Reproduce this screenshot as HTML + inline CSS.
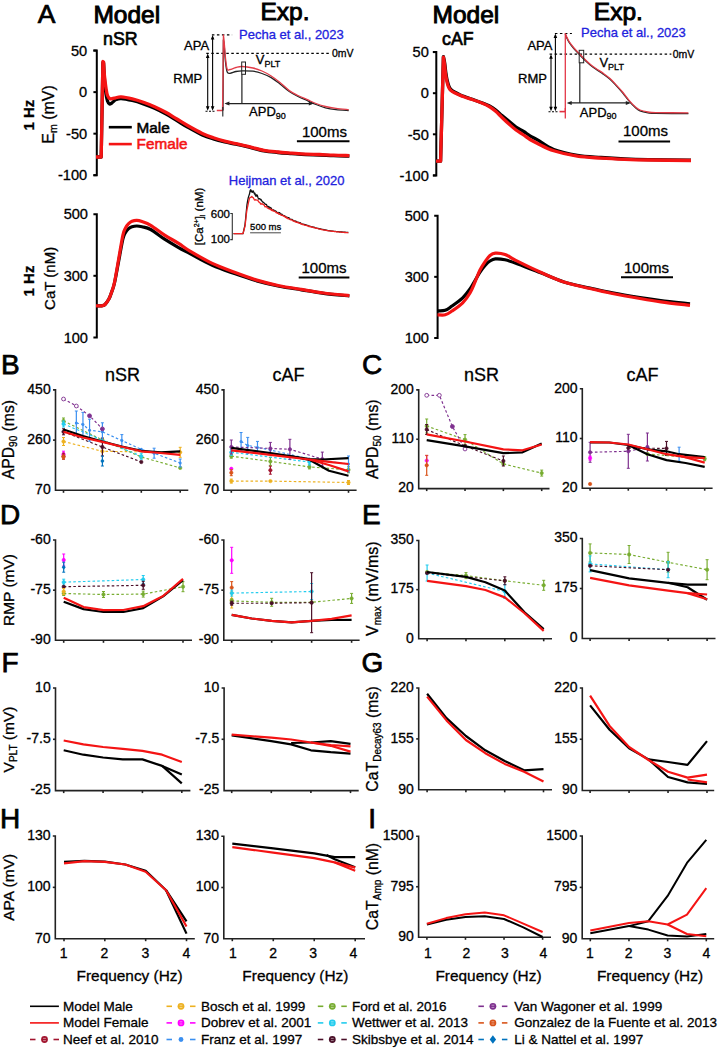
<!DOCTYPE html><html><head><meta charset="utf-8"><style>html,body{margin:0;padding:0;background:#fff;}svg{display:block;}</style></head><body>
<svg width="718" height="1049" viewBox="0 0 718 1049" font-family='"Liberation Sans", sans-serif'>
<rect width="718" height="1049" fill="#fff"/>
<text x="37.8" y="23.1" font-size="26.5" text-anchor="start" font-weight="normal" fill="#000" stroke="#000" stroke-width="0.7" >A</text>
<text x="93.4" y="23" font-size="24.5" text-anchor="start" font-weight="normal" fill="#000" stroke="#000" stroke-width="0.95" >Model</text>
<text x="260.5" y="20" font-size="24.5" text-anchor="start" font-weight="normal" fill="#000" stroke="#000" stroke-width="0.95" >Exp.</text>
<text x="432.5" y="22.6" font-size="24.5" text-anchor="start" font-weight="normal" fill="#000" stroke="#000" stroke-width="0.95" >Model</text>
<text x="593.8" y="19.6" font-size="24.5" text-anchor="start" font-weight="normal" fill="#000" stroke="#000" stroke-width="0.95" >Exp.</text>
<text x="103" y="45.2" font-size="17.8" text-anchor="start" font-weight="normal" fill="#000" stroke="#000" stroke-width="0.65" >nSR</text>
<text x="442" y="44.8" font-size="17.8" text-anchor="start" font-weight="normal" fill="#000" stroke="#000" stroke-width="0.65" >cAF</text>
<path d="M93.4,50.6 H96.8 V175.2 H93.4" fill="none" stroke="#000" stroke-width="2"/>
<line x1="93.4" y1="50.6" x2="96.8" y2="50.6" stroke="#000" stroke-width="2"/>
<text x="87.2" y="55.8" font-size="14.6" text-anchor="end" font-weight="normal" fill="#000" stroke="#000" stroke-width="0.3" >50</text>
<line x1="93.4" y1="92.13" x2="96.8" y2="92.13" stroke="#000" stroke-width="2"/>
<text x="87.2" y="97.33" font-size="14.6" text-anchor="end" font-weight="normal" fill="#000" stroke="#000" stroke-width="0.3" >0</text>
<line x1="93.4" y1="133.67" x2="96.8" y2="133.67" stroke="#000" stroke-width="2"/>
<text x="87.2" y="138.87" font-size="14.6" text-anchor="end" font-weight="normal" fill="#000" stroke="#000" stroke-width="0.3" >-50</text>
<line x1="93.4" y1="175.2" x2="96.8" y2="175.2" stroke="#000" stroke-width="2"/>
<text x="87.2" y="180.4" font-size="14.6" text-anchor="end" font-weight="normal" fill="#000" stroke="#000" stroke-width="0.3" >-100</text>
<path d="M432.9,52.1 H436.3 V175.4 H432.9" fill="none" stroke="#000" stroke-width="2"/>
<line x1="432.9" y1="52.1" x2="436.3" y2="52.1" stroke="#000" stroke-width="2"/>
<text x="428.8" y="57.3" font-size="14.6" text-anchor="end" font-weight="normal" fill="#000" stroke="#000" stroke-width="0.3" >50</text>
<line x1="432.9" y1="93.2" x2="436.3" y2="93.2" stroke="#000" stroke-width="2"/>
<text x="428.8" y="98.4" font-size="14.6" text-anchor="end" font-weight="normal" fill="#000" stroke="#000" stroke-width="0.3" >0</text>
<line x1="432.9" y1="134.3" x2="436.3" y2="134.3" stroke="#000" stroke-width="2"/>
<text x="428.8" y="139.5" font-size="14.6" text-anchor="end" font-weight="normal" fill="#000" stroke="#000" stroke-width="0.3" >-50</text>
<line x1="432.9" y1="175.4" x2="436.3" y2="175.4" stroke="#000" stroke-width="2"/>
<text x="428.8" y="180.6" font-size="14.6" text-anchor="end" font-weight="normal" fill="#000" stroke="#000" stroke-width="0.3" >-100</text>
<text transform="translate(34.3,115.2) rotate(-90)" font-size="15" text-anchor="middle" stroke="#000" stroke-width="0.3" font-weight="bold">1 Hz</text>
<text transform="translate(54,114.4) rotate(-90)" font-size="16" text-anchor="middle" stroke="#000" stroke-width="0.3" >E<tspan font-size="10.5" dy="3">m</tspan><tspan dy="-3"> (mV)</tspan></text>
<path d="M96,157 L101.2,157 L102.9,62.5 L103.6,63 C103.75,65.83 104.1,74.83 104.5,80 C104.9,85.17 105.5,90.5 106,94 C106.5,97.5 106.92,99.33 107.5,101 C108.08,102.67 108.75,103.7 109.5,104 C110.25,104.3 110.92,103.53 112,102.8 C113.08,102.07 114.48,100.32 116,99.6 C117.52,98.88 118.38,98.35 121.1,98.5 C123.82,98.65 128.58,99.6 132.3,100.5 C136.02,101.4 139.68,102.6 143.4,103.9 C147.12,105.2 150.88,106.63 154.6,108.3 C158.32,109.97 161.98,111.85 165.7,113.9 C169.42,115.95 173.18,118.37 176.9,120.6 C180.62,122.83 183.77,124.92 188,127.3 C192.23,129.68 198.07,132.97 202.3,134.9 C206.53,136.83 209.68,137.73 213.4,138.9 C217.12,140.07 220.88,141.02 224.6,141.9 C228.32,142.78 231.98,143.4 235.7,144.2 C239.42,145 242.2,145.6 246.9,146.7 C251.6,147.8 258.73,149.83 263.9,150.8 C269.07,151.77 273.25,152.03 277.9,152.5 C282.55,152.97 287.17,153.25 291.8,153.6 C296.43,153.95 301.07,154.37 305.7,154.6 C310.33,154.83 314.95,154.82 319.6,155 C324.25,155.18 328.63,155.52 333.6,155.7 C338.57,155.88 346.77,156.03 349.4,156.1" fill="none" stroke="#000" stroke-width="3.3" stroke-linejoin="round" />
<path d="M96,157 L101.2,157 L102.9,61.5 L103.6,62 C103.75,64.33 104.1,71.67 104.5,76 C104.9,80.33 105.5,84.75 106,88 C106.5,91.25 106.83,93.7 107.5,95.5 C108.17,97.3 109.08,98.32 110,98.8 C110.92,99.28 112.07,98.57 113,98.4 C113.93,98.23 114.25,98.05 115.6,97.8 C116.95,97.55 118.32,96.72 121.1,96.9 C123.88,97.08 128.58,98 132.3,98.9 C136.02,99.8 139.68,101 143.4,102.3 C147.12,103.6 150.88,105.03 154.6,106.7 C158.32,108.37 161.98,110.25 165.7,112.3 C169.42,114.35 173.18,116.77 176.9,119 C180.62,121.23 183.77,123.3 188,125.7 C192.23,128.1 198.07,131.38 202.3,133.4 C206.53,135.42 209.68,136.5 213.4,137.8 C217.12,139.1 220.88,140.22 224.6,141.2 C228.32,142.18 231.98,142.87 235.7,143.7 C239.42,144.53 242.2,145.1 246.9,146.2 C251.6,147.3 258.73,149.33 263.9,150.3 C269.07,151.27 273.25,151.53 277.9,152 C282.55,152.47 287.17,152.75 291.8,153.1 C296.43,153.45 301.07,153.87 305.7,154.1 C310.33,154.33 314.95,154.32 319.6,154.5 C324.25,154.68 328.63,155.02 333.6,155.2 C338.57,155.38 346.77,155.53 349.4,155.6" fill="none" stroke="#f41414" stroke-width="3.3" stroke-linejoin="round" />
<line x1="108.8" y1="127.2" x2="131.8" y2="127.2" stroke="#000" stroke-width="2.6"/>
<text x="136.6" y="132.6" font-size="15.3" text-anchor="start" font-weight="normal" fill="#000" stroke="#000" stroke-width="0.55" >Male</text>
<line x1="108.8" y1="144.1" x2="131.8" y2="144.1" stroke="#f41414" stroke-width="2.6"/>
<text x="136.6" y="149.4" font-size="15.3" text-anchor="start" font-weight="normal" fill="#f41414" stroke="#f41414" stroke-width="0.55" >Female</text>
<line x1="296.9" y1="141.3" x2="349.5" y2="141.3" stroke="#000" stroke-width="2"/>
<text x="301.9" y="136.6" font-size="15" text-anchor="start" font-weight="normal" fill="#000" stroke="#000" stroke-width="0.3" >100ms</text>
<line x1="211.9" y1="34.9" x2="232.1" y2="34.9" stroke="#000" stroke-width="1.2" stroke-dasharray="2.5,2.5"/>
<line x1="206.3" y1="53.4" x2="330" y2="53.4" stroke="#000" stroke-width="1.2" stroke-dasharray="2.5,2.5"/>
<text x="331.9" y="56.8" font-size="10.5" text-anchor="start" font-weight="normal" fill="#000" stroke="#000" stroke-width="0.3" >0mV</text>
<line x1="207.7" y1="55.4" x2="207.7" y2="108.8" stroke="#000" stroke-width="1.1"/>
<path d="M207.7,53.4 l-1.8,4.5 h3.6z M207.7,110.8 l-1.8,-4.5 h3.6z" fill="#000"/>
<line x1="212.6" y1="36.9" x2="212.6" y2="108.8" stroke="#000" stroke-width="1.1"/>
<path d="M212.6,34.9 l-1.8,4.5 h3.6z M212.6,110.8 l-1.8,-4.5 h3.6z" fill="#000"/>
<line x1="205.5" y1="111.2" x2="215" y2="111.2" stroke="#000" stroke-width="1.1" stroke-dasharray="2,1.5"/>
<text x="209.1" y="50" font-size="13" text-anchor="end" font-weight="normal" fill="#000" stroke="#000" stroke-width="0.3" >APA</text>
<text x="202.2" y="83.4" font-size="13" text-anchor="end" font-weight="normal" fill="#000" stroke="#000" stroke-width="0.3" >RMP</text>
<text x="239" y="38.6" font-size="13" text-anchor="start" font-weight="normal" fill="#2222dd" stroke="#2222dd" stroke-width="0.3" >Pecha et al., 2023</text>
<path d="M223,110.5 L223.4,40 C223.53,40.83 223.85,41.33 224.2,45 C224.55,48.67 225,57.5 225.5,62 C226,66.5 226.45,70.12 227.2,72 C227.95,73.88 228.53,73.38 230,73.3 C231.47,73.22 234,71.92 236,71.5 C238,71.08 239.17,70.85 242,70.8 C244.83,70.75 249.67,70.75 253,71.2 C256.33,71.65 258.97,72.43 262,73.5 C265.03,74.57 268.2,75.85 271.2,77.6 C274.2,79.35 276.98,81.68 280,84 C283.02,86.32 286.3,89.42 289.3,91.5 C292.3,93.58 294.98,94.98 298,96.5 C301.02,98.02 304.4,99.27 307.4,100.6 C310.4,101.93 312.98,103.3 316,104.5 C319.02,105.7 322.17,106.95 325.5,107.8 C328.83,108.65 332.13,109.15 336,109.6 C339.87,110.05 346.58,110.35 348.7,110.5" fill="none" stroke="#222" stroke-width="1.3" stroke-linejoin="round" />
<path d="M216.8,110.5 L222.5,110.5 L223,80 L223.4,35 C223.53,36.17 223.85,38.17 224.2,42 C224.55,45.83 225,53.5 225.5,58 C226,62.5 226.45,67.08 227.2,69 C227.95,70.92 228.53,69.75 230,69.5 C231.47,69.25 234,68 236,67.5 C238,67 239.17,66.42 242,66.5 C244.83,66.58 249.67,67.25 253,68 C256.33,68.75 258.97,69.67 262,71 C265.03,72.33 268.2,74.08 271.2,76 C274.2,77.92 276.98,80.07 280,82.5 C283.02,84.93 286.3,88.43 289.3,90.6 C292.3,92.77 294.98,93.98 298,95.5 C301.02,97.02 304.4,98.37 307.4,99.7 C310.4,101.03 312.98,102.37 316,103.5 C319.02,104.63 322.17,105.68 325.5,106.5 C328.83,107.32 332.13,107.88 336,108.4 C339.87,108.92 346.58,109.4 348.7,109.6" fill="none" stroke="#e23c48" stroke-width="1.3" stroke-linejoin="round" />
<line x1="222.8" y1="107" x2="222.8" y2="116.5" stroke="#222" stroke-width="1.1"/>
<rect x="241.7" y="62" width="3.8" height="12.3" fill="none" stroke="#222" stroke-width="1"/>
<line x1="241.9" y1="74.3" x2="241.9" y2="103.6" stroke="#222" stroke-width="1.2"/>
<line x1="226.5" y1="103.6" x2="311.5" y2="103.6" stroke="#222" stroke-width="1.2"/>
<path d="M224.4,103.6 l5,-2 v4z M313.8,103.6 l-5,-2 v4z" fill="#222"/>
<text x="255.8" y="64.4" font-size="13" text-anchor="start" font-weight="normal" fill="#000" stroke="#000" stroke-width="0.3" >V<tspan font-size="9" dy="3">PLT</tspan></text>
<text x="249.1" y="116.3" font-size="13" text-anchor="start" font-weight="normal" fill="#000" stroke="#000" stroke-width="0.3" >APD<tspan font-size="9" dy="2.4">90</tspan></text>
<path d="M436,161.2 L440.6,161.2 L443.4,56.6 C443.62,57.67 444.3,60.33 444.7,63 C445.1,65.67 445.37,69.6 445.8,72.6 C446.23,75.6 446.73,78.62 447.3,81 C447.87,83.38 448.53,85.43 449.2,86.9 C449.87,88.37 450.5,88.98 451.3,89.8 C452.1,90.62 452.5,90.95 454,91.8 C455.5,92.65 457.98,93.92 460.3,94.9 C462.62,95.88 464.32,96.38 467.9,97.7 C471.48,99.02 478.12,101.37 481.8,102.8 C485.48,104.23 487.68,105.1 490,106.3 C492.32,107.5 493.7,108.47 495.7,110 C497.7,111.53 499.68,113.53 502,115.5 C504.32,117.47 507.27,119.88 509.6,121.8 C511.93,123.72 513.67,125.38 516,127 C518.33,128.62 521.27,130.03 523.6,131.5 C525.93,132.97 527.68,134.4 530,135.8 C532.32,137.2 533.55,137.62 537.5,139.9 C541.45,142.18 547.07,146.92 553.7,149.5 C560.33,152.08 569.42,154.07 577.3,155.4 C585.18,156.73 593.1,156.92 601,157.5 C608.9,158.08 616.8,158.55 624.7,158.9 C632.6,159.25 637.35,159.4 648.4,159.6 C659.45,159.8 683.9,160.02 691,160.1" fill="none" stroke="#000" stroke-width="3.3" stroke-linejoin="round" />
<path d="M436,161.2 L440.6,161.2 L443.4,57.2 C443.58,58.33 444.15,61.27 444.5,64 C444.85,66.73 445.08,70.6 445.5,73.6 C445.92,76.6 446.43,79.62 447,82 C447.57,84.38 448.23,86.47 448.9,87.9 C449.57,89.33 450.15,89.83 451,90.6 C451.85,91.37 452.45,91.7 454,92.5 C455.55,93.3 457.98,94.47 460.3,95.4 C462.62,96.33 464.32,96.83 467.9,98.1 C471.48,99.37 478.12,101.52 481.8,103 C485.48,104.48 487.68,105.62 490,107 C492.32,108.38 493.7,109.55 495.7,111.3 C497.7,113.05 499.68,115.28 502,117.5 C504.32,119.72 507.27,122.52 509.6,124.6 C511.93,126.68 513.67,128.27 516,130 C518.33,131.73 521.27,133.42 523.6,135 C525.93,136.58 527.68,138.1 530,139.5 C532.32,140.9 533.55,141.52 537.5,143.4 C541.45,145.28 547.07,148.67 553.7,150.8 C560.33,152.93 569.42,154.98 577.3,156.2 C585.18,157.42 593.1,157.58 601,158.1 C608.9,158.62 616.8,158.98 624.7,159.3 C632.6,159.62 637.35,159.8 648.4,160 C659.45,160.2 683.9,160.42 691,160.5" fill="none" stroke="#f41414" stroke-width="3.3" stroke-linejoin="round" />
<line x1="618.5" y1="141.4" x2="670.1" y2="141.4" stroke="#000" stroke-width="2"/>
<text x="623" y="136.2" font-size="15" text-anchor="start" font-weight="normal" fill="#000" stroke="#000" stroke-width="0.3" >100ms</text>
<line x1="554.9" y1="33.5" x2="571.9" y2="33.5" stroke="#000" stroke-width="1.2" stroke-dasharray="2.5,2.5"/>
<line x1="549.6" y1="54.2" x2="671.4" y2="54.2" stroke="#000" stroke-width="1.2" stroke-dasharray="2.5,2.5"/>
<text x="672.7" y="57.5" font-size="10.5" text-anchor="start" font-weight="normal" fill="#000" stroke="#000" stroke-width="0.3" >0mV</text>
<line x1="551" y1="56.2" x2="551" y2="109.3" stroke="#000" stroke-width="1.1"/>
<path d="M551,54.2 l-1.8,4.5 h3.6z M551,111.3 l-1.8,-4.5 h3.6z" fill="#000"/>
<line x1="555.4" y1="35.5" x2="555.4" y2="109.3" stroke="#000" stroke-width="1.1"/>
<path d="M555.4,33.5 l-1.8,4.5 h3.6z M555.4,111.3 l-1.8,-4.5 h3.6z" fill="#000"/>
<line x1="548.5" y1="111.8" x2="558" y2="111.8" stroke="#000" stroke-width="1.1" stroke-dasharray="2,1.5"/>
<text x="552.5" y="49.5" font-size="13" text-anchor="end" font-weight="normal" fill="#000" stroke="#000" stroke-width="0.3" >APA</text>
<text x="547" y="82.5" font-size="13" text-anchor="end" font-weight="normal" fill="#000" stroke="#000" stroke-width="0.3" >RMP</text>
<text x="581" y="36.7" font-size="13" text-anchor="start" font-weight="normal" fill="#2222dd" stroke="#2222dd" stroke-width="0.3" >Pecha et al., 2023</text>
<path d="M565.3,34.3 C565.5,34.8 565.83,35.9 566.5,37.3 C567.17,38.7 568.05,40.78 569.3,42.7 C570.55,44.62 572.25,46.75 574,48.8 C575.75,50.85 577.97,53.08 579.8,55 C581.63,56.92 583.27,58.63 585,60.3 C586.73,61.97 588.37,63.5 590.2,65 C592.03,66.5 593.82,67.78 596,69.3 C598.18,70.82 600.97,72.43 603.3,74.1 C605.63,75.77 607.82,77.33 610,79.3 C612.18,81.27 614.23,83.57 616.4,85.9 C618.57,88.23 620.82,90.68 623,93.3 C625.18,95.92 627.5,99.27 629.5,101.6 C631.5,103.93 633.25,105.77 635,107.3 C636.75,108.83 637.83,109.88 640,110.8 C642.17,111.72 645.38,112.37 648,112.8 C650.62,113.23 648.97,113.27 655.7,113.4 C662.43,113.53 682.95,113.57 688.4,113.6" fill="none" stroke="#222" stroke-width="1.3" stroke-linejoin="round" />
<path d="M565.3,33.5 C565.5,34 565.83,35.1 566.5,36.5 C567.17,37.9 568.05,39.98 569.3,41.9 C570.55,43.82 572.25,45.95 574,48 C575.75,50.05 577.97,52.28 579.8,54.2 C581.63,56.12 583.27,57.83 585,59.5 C586.73,61.17 588.37,62.7 590.2,64.2 C592.03,65.7 593.82,66.98 596,68.5 C598.18,70.02 600.97,71.63 603.3,73.3 C605.63,74.97 607.82,76.53 610,78.5 C612.18,80.47 614.23,82.77 616.4,85.1 C618.57,87.43 620.82,89.88 623,92.5 C625.18,95.12 627.5,98.47 629.5,100.8 C631.5,103.13 633.25,104.97 635,106.5 C636.75,108.03 637.83,109.08 640,110 C642.17,110.92 645.38,111.57 648,112 C650.62,112.43 648.97,112.47 655.7,112.6 C662.43,112.73 682.95,112.77 688.4,112.8" fill="none" stroke="#e23c48" stroke-width="1.3" stroke-linejoin="round" />
<line x1="565.3" y1="33.5" x2="565.3" y2="111.3" stroke="#e23040" stroke-width="1.25"/>
<line x1="559.5" y1="111.6" x2="565" y2="111.6" stroke="#e23040" stroke-width="1.6"/>
<line x1="565.3" y1="108" x2="565.3" y2="118.4" stroke="#e23040" stroke-width="1.25"/>
<rect x="579.2" y="50.3" width="4.5" height="12.5" fill="none" stroke="#222" stroke-width="1"/>
<line x1="579.8" y1="62.8" x2="579.8" y2="102.9" stroke="#222" stroke-width="1.2"/>
<line x1="568.7" y1="102.9" x2="628.8" y2="102.9" stroke="#222" stroke-width="1.2"/>
<path d="M566.7,102.9 l5,-2 v4z M630.8,102.9 l-5,-2 v4z" fill="#222"/>
<text x="599.4" y="66.8" font-size="13" text-anchor="start" font-weight="normal" fill="#000" stroke="#000" stroke-width="0.3" >V<tspan font-size="9" dy="3">PLT</tspan></text>
<text x="579.8" y="116.5" font-size="13" text-anchor="start" font-weight="normal" fill="#000" stroke="#000" stroke-width="0.3" >APD<tspan font-size="9" dy="2.4">90</tspan></text>
<path d="M93.4,214.2 H96.8 V337.4 H93.4" fill="none" stroke="#000" stroke-width="2"/>
<line x1="93.4" y1="275.8" x2="96.8" y2="275.8" stroke="#000" stroke-width="2"/>
<text x="88" y="219.4" font-size="14.6" text-anchor="end" font-weight="normal" fill="#000" stroke="#000" stroke-width="0.3" >500</text>
<text x="88" y="281" font-size="14.6" text-anchor="end" font-weight="normal" fill="#000" stroke="#000" stroke-width="0.3" >300</text>
<text x="88" y="342.6" font-size="14.6" text-anchor="end" font-weight="normal" fill="#000" stroke="#000" stroke-width="0.3" >100</text>
<path d="M434.2,215.8 H437.6 V337.9 H434.2" fill="none" stroke="#000" stroke-width="2"/>
<line x1="434.2" y1="276.85" x2="437.6" y2="276.85" stroke="#000" stroke-width="2"/>
<text x="429" y="221" font-size="14.6" text-anchor="end" font-weight="normal" fill="#000" stroke="#000" stroke-width="0.3" >500</text>
<text x="429" y="282.05" font-size="14.6" text-anchor="end" font-weight="normal" fill="#000" stroke="#000" stroke-width="0.3" >300</text>
<text x="429" y="343.1" font-size="14.6" text-anchor="end" font-weight="normal" fill="#000" stroke="#000" stroke-width="0.3" >100</text>
<text transform="translate(33.8,281) rotate(-90)" font-size="15" text-anchor="middle" stroke="#000" stroke-width="0.3" font-weight="bold">1 Hz</text>
<text transform="translate(55,278.4) rotate(-90)" font-size="15" text-anchor="middle" stroke="#000" stroke-width="0.3" >CaT (nM)</text>
<path d="M96,305.8 L102,305.8 C102.5,305.58 103.85,305.62 105,304.5 C106.15,303.38 107.82,301.1 108.9,299.1 C109.98,297.1 110.57,295.18 111.5,292.5 C112.43,289.82 113.3,288.25 114.5,283 C115.7,277.75 117.3,268.33 118.7,261 C120.1,253.67 121.77,243.75 122.9,239 C124.03,234.25 124.58,234.2 125.5,232.5 C126.42,230.8 127.32,229.75 128.4,228.8 C129.48,227.85 130.6,227.27 132,226.8 C133.4,226.33 135.13,226 136.8,226 C138.47,226 139.68,226.22 142,226.8 C144.32,227.38 146.93,227.43 150.7,229.5 C154.47,231.57 159.95,236.18 164.6,239.2 C169.25,242.22 174.37,245.2 178.6,247.6 C182.83,250 184.38,250.65 190,253.6 C195.62,256.55 204.88,261.97 212.3,265.3 C219.72,268.63 227.08,271 234.5,273.6 C241.92,276.2 249.37,278.8 256.8,280.9 C264.23,283 271.67,284.72 279.1,286.2 C286.53,287.68 293.98,288.62 301.4,289.8 C308.82,290.98 315.6,292.27 323.6,293.3 C331.6,294.33 345.1,295.55 349.4,296" fill="none" stroke="#000" stroke-width="3.2" stroke-linejoin="round" />
<path d="M96,305.8 L102,305.8 C102.5,305.58 103.85,305.62 105,304.5 C106.15,303.38 107.82,301.1 108.9,299.1 C109.98,297.1 110.57,295.28 111.5,292.5 C112.43,289.72 113.3,288.03 114.5,282.4 C115.7,276.77 117.3,266.58 118.7,258.7 C120.1,250.82 121.77,240.22 122.9,235.1 C124.03,229.98 124.58,229.87 125.5,228 C126.42,226.13 127.32,225.02 128.4,223.9 C129.48,222.78 130.6,221.88 132,221.3 C133.4,220.72 135.13,220.35 136.8,220.4 C138.47,220.45 139.68,220.78 142,221.6 C144.32,222.42 146.93,223.05 150.7,225.3 C154.47,227.55 159.95,232.08 164.6,235.1 C169.25,238.12 174.37,240.73 178.6,243.4 C182.83,246.07 184.38,247.77 190,251.1 C195.62,254.43 204.88,259.87 212.3,263.4 C219.72,266.93 227.08,269.52 234.5,272.3 C241.92,275.08 249.37,277.87 256.8,280.1 C264.23,282.33 271.67,284.15 279.1,285.7 C286.53,287.25 293.98,288.18 301.4,289.4 C308.82,290.62 315.6,291.95 323.6,293 C331.6,294.05 345.1,295.25 349.4,295.7" fill="none" stroke="#f41414" stroke-width="3.2" stroke-linejoin="round" />
<line x1="298.7" y1="277.5" x2="349.4" y2="277.5" stroke="#000" stroke-width="2"/>
<text x="301.5" y="273.2" font-size="15" text-anchor="start" font-weight="normal" fill="#000" stroke="#000" stroke-width="0.3" >100ms</text>
<text x="228.8" y="185.1" font-size="13" text-anchor="start" font-weight="normal" fill="#2222dd" stroke="#2222dd" stroke-width="0.3" >Heijman et al., 2020</text>
<path d="M230.3,213.5 H232.3 V239.6 H230.3" fill="none" stroke="#333" stroke-width="1.1"/>
<text x="230" y="218.3" font-size="11.5" text-anchor="end" font-weight="normal" fill="#000" stroke="#000" stroke-width="0.3" >600</text>
<text x="230" y="243" font-size="11.5" text-anchor="end" font-weight="normal" fill="#000" stroke="#000" stroke-width="0.3" >100</text>
<text transform="translate(202.8,216.5) rotate(-90)" font-size="11.5" text-anchor="middle" stroke="#000" stroke-width="0.3" >[Ca<tspan font-size="7" dy="-4">2+</tspan><tspan dy="4">]</tspan><tspan font-size="7" dy="2">i</tspan><tspan dy="-2"> (nM)</tspan></text>
<polyline points="233.5,233.7 243,233.7 245,224.79 245.52,219.77 246.26,212.04 247,204.54 247.67,200.69 248.35,197.4 249,195.38 249.56,193.76 250.1,190.56 250.8,189.69 251.31,191.88 251.84,190.97 252.45,192.31 253.16,190.87 254,192.86 254.48,194.05 254.99,193.31 255.53,195.74 256.11,196.26 256.71,194.79 257.33,195.51 257.97,197.48 258.63,199.12 259.31,198.54 260,198.87 260.53,199.85 261.07,199.52 261.61,200.47 262.15,201.46 262.71,202.11 263.28,202.11 263.86,202.65 264.47,203.17 265.1,204.17 265.75,204.39 266.43,204.44 267.15,206.47 267.9,206.5 268.41,207 268.94,206.56 269.49,208.3 270.06,208.43 270.64,207.56 271.24,208.28 271.85,209.27 272.47,209.61 273.09,210.33 273.72,209.89 274.36,210.87 275,210.98 275.64,210.8 276.28,211.57 276.92,212.34 277.55,212.63 278.18,212.5 278.8,212.95 279.4,212.55 280,213.16 280.62,214.23 281.24,214.08 281.85,214.12 282.46,214.92 283.07,215.44 283.68,215.73 284.28,215.71 284.88,216.11 285.49,216.51 286.09,217.13 286.69,217.16 287.29,217.33 287.89,217.74 288.49,217.58 289.09,217.9 289.69,218.85 290.29,219.4 290.9,219.31 291.5,219.4 292.1,219.47 292.71,220.04 293.31,220.72 293.91,220.79 294.51,220.84 295.11,221.36 295.71,221.09 296.31,221.55 296.91,222.13 297.51,222.07 298.11,222.21 298.71,222.3 299.32,222.72 299.92,223.23 300.53,222.79 301.15,223.54 301.76,223.78 302.38,224.03 303,224.15 303.59,224.39 304.18,224.42 304.77,224.64 305.35,224.76 305.94,224.74 306.53,225.39 307.11,225.42 307.7,225.41 308.3,225.76 308.89,225.93 309.49,226.05 310.1,226.23 310.71,226.5 311.33,226.72 311.95,226.89 312.58,226.99 313.22,226.99 313.87,227.25 314.53,227.4 315.2,227.73 315.76,227.98 316.33,228.09 316.9,228.23 317.48,228.38 318.05,228.32 318.64,228.66 319.22,228.75 319.81,228.7 320.41,228.82 321.01,228.96 321.61,229.31 322.22,229.3 322.83,229.4 323.45,229.67 324.08,229.73 324.71,229.79 325.35,229.93 325.99,230.14 326.64,230.18 327.3,230.32 327.96,230.53 328.64,230.58 329.31,230.66 330,230.8 330.57,230.79 331.16,230.94 331.77,231.02 332.41,231.06 333.06,231.12 333.73,231.32 334.41,231.33 335.11,231.35 335.81,231.48 336.52,231.58 337.23,231.53 337.95,231.6 338.66,231.68 339.37,231.81 340.07,231.8 340.77,231.92 341.46,231.98 342.13,232.01 342.79,232.03 343.43,232.16 344.04,232.19 344.64,232.21 345.21,232.22 345.76,232.3 346.27,232.32 346.75,232.38 347.2,232.39 347.6,232.45 347.97,232.44 348.3,232.48" fill="none" stroke="#111" stroke-width="1.3" stroke-linejoin="round" stroke-linecap="butt" />
<polyline points="233.5,233.7 243,233.7 245,226.23 245.52,221.98 246.26,214.96 247,209.36 247.67,206.57 248.35,203.07 249,200.37 249.56,197.87 250.1,197.66 250.8,197.25 251.31,197.16 251.84,196.32 252.45,197.3 253.16,197.69 254,199.01 254.48,199.95 254.99,200.21 255.53,199.72 256.11,199.96 256.71,200.06 257.33,200.06 257.97,200.56 258.63,201.97 259.31,202.16 260,202.76 260.53,204.12 261.07,203.73 261.61,204.13 262.15,203.84 262.71,203.77 263.28,204.68 263.86,204.67 264.47,205.7 265.1,206.93 265.75,206.71 266.43,206.22 267.15,207.86 267.9,208.1 268.41,208.28 268.94,208.86 269.49,208.92 270.06,209.27 270.64,208.89 271.24,210.22 271.85,210.51 272.47,209.62 273.09,210.86 273.72,211.14 274.36,211.12 275,211.57 275.64,211.86 276.28,212.81 276.92,212.56 277.55,213.35 278.18,213.04 278.8,214.06 279.4,214.4 280,214.15 280.62,214.61 281.24,215.37 281.85,215.44 282.46,215.48 283.07,215.49 283.68,215.93 284.28,216.68 284.88,216.4 285.49,217.52 286.09,217.14 286.69,218.12 287.29,217.8 287.89,218.75 288.49,218.79 289.09,218.88 289.69,219.18 290.29,219.59 290.9,219.81 291.5,219.83 292.1,220.01 292.71,220.54 293.31,221.16 293.91,221.15 294.51,220.96 295.11,221.8 295.71,221.97 296.31,222.35 296.91,222.05 297.51,222.69 298.11,222.43 298.71,223.08 299.32,223.04 299.92,223.24 300.53,223.89 301.15,223.61 301.76,224.09 302.38,224.51 303,224.35 303.59,224.53 304.18,225.11 304.77,225.04 305.35,225.39 305.94,225.21 306.53,225.57 307.11,225.65 307.7,226.08 308.3,225.97 308.89,226.56 309.49,226.29 310.1,226.79 310.71,226.64 311.33,226.91 311.95,227.32 312.58,227.21 313.22,227.38 313.87,227.75 314.53,227.79 315.2,227.83 315.76,228.31 316.33,228.15 316.9,228.25 317.48,228.49 318.05,228.72 318.64,228.89 319.22,228.83 319.81,229.03 320.41,229.08 321.01,229.33 321.61,229.55 322.22,229.67 322.83,229.84 323.45,229.92 324.08,230.07 324.71,230.16 325.35,230.22 325.99,230.29 326.64,230.5 327.3,230.54 327.96,230.61 328.64,230.78 329.31,230.97 330,230.93 330.57,231.09 331.16,231.14 331.77,231.24 332.41,231.26 333.06,231.46 333.73,231.43 334.41,231.55 335.11,231.6 335.81,231.62 336.52,231.76 337.23,231.78 337.95,231.84 338.66,231.91 339.37,231.99 340.07,232.05 340.77,232.16 341.46,232.21 342.13,232.31 342.79,232.36 343.43,232.42 344.04,232.41 344.64,232.48 345.21,232.51 345.76,232.58 346.27,232.63 346.75,232.68 347.2,232.71 347.6,232.72 347.97,232.76 348.3,232.8" fill="none" stroke="#e22" stroke-width="1.3" stroke-linejoin="round" stroke-linecap="butt" />
<text x="250.1" y="230.1" font-size="9.5" text-anchor="start" font-weight="normal" fill="#000" stroke="#000" stroke-width="0.3" >500 ms</text>
<line x1="250.1" y1="232.8" x2="280.9" y2="232.8" stroke="#333" stroke-width="0.9"/>
<path d="M437.5,310.8 C438.78,310.72 442.78,311.1 445.2,310.3 C447.62,309.5 449.08,308.08 452,306 C454.92,303.92 459.7,300.63 462.7,297.8 C465.7,294.97 467.92,291.93 470,289 C472.08,286.07 473.53,283.03 475.2,280.2 C476.87,277.37 478.32,274.5 480,272 C481.68,269.5 483.63,267.03 485.3,265.2 C486.97,263.37 488.33,262.05 490,261 C491.67,259.95 492.8,259.1 495.3,258.9 C497.8,258.7 501.25,258.97 505,259.8 C508.75,260.63 511.97,261.78 517.8,263.9 C523.63,266.02 532.32,269.48 540,272.5 C547.68,275.52 555.57,279.42 563.9,282 C572.23,284.58 581.92,286.2 590,288 C598.08,289.8 604.07,291.22 612.4,292.8 C620.73,294.38 631.93,296.22 640,297.5 C648.07,298.78 652.47,299.43 660.8,300.5 C669.13,301.57 685.13,303.33 690,303.9" fill="none" stroke="#000" stroke-width="3.2" stroke-linejoin="round" />
<path d="M437.5,314.8 C438.78,314.8 442.78,315.43 445.2,314.8 C447.62,314.17 449.08,313 452,311 C454.92,309 459.7,305.8 462.7,302.8 C465.7,299.8 467.92,296.55 470,293 C472.08,289.45 473.53,285.33 475.2,281.5 C476.87,277.67 478.32,273.35 480,270 C481.68,266.65 483.63,263.82 485.3,261.4 C486.97,258.98 488.33,256.88 490,255.5 C491.67,254.12 492.8,253.27 495.3,253.1 C497.8,252.93 501.25,253.12 505,254.5 C508.75,255.88 511.97,258.48 517.8,261.4 C523.63,264.32 532.32,268.57 540,272 C547.68,275.43 555.57,279.25 563.9,282 C572.23,284.75 581.92,286.58 590,288.5 C598.08,290.42 604.07,291.83 612.4,293.5 C620.73,295.17 631.93,297.12 640,298.5 C648.07,299.88 652.47,300.65 660.8,301.8 C669.13,302.95 685.13,304.8 690,305.4" fill="none" stroke="#f41414" stroke-width="3.2" stroke-linejoin="round" />
<line x1="621" y1="277.3" x2="673" y2="277.3" stroke="#000" stroke-width="2"/>
<text x="624" y="273.2" font-size="15" text-anchor="start" font-weight="normal" fill="#000" stroke="#000" stroke-width="0.3" >100ms</text>
<text x="1" y="374.4" font-size="28" text-anchor="start" font-weight="normal" fill="#000" stroke="#000" stroke-width="0.75" >B</text>
<text x="361.9" y="374.2" font-size="28" text-anchor="start" font-weight="normal" fill="#000" stroke="#000" stroke-width="0.75" >C</text>
<text x="0.1" y="524.4" font-size="28" text-anchor="start" font-weight="normal" fill="#000" stroke="#000" stroke-width="0.75" >D</text>
<text x="362.1" y="524.4" font-size="28" text-anchor="start" font-weight="normal" fill="#000" stroke="#000" stroke-width="0.75" >E</text>
<text x="1.5" y="672.2" font-size="28" text-anchor="start" font-weight="normal" fill="#000" stroke="#000" stroke-width="0.75" >F</text>
<text x="361.6" y="671.6" font-size="28" text-anchor="start" font-weight="normal" fill="#000" stroke="#000" stroke-width="0.75" >G</text>
<text x="0.1" y="827.8" font-size="28" text-anchor="start" font-weight="normal" fill="#000" stroke="#000" stroke-width="0.75" >H</text>
<text x="368.2" y="827.8" font-size="28" text-anchor="start" font-weight="normal" fill="#000" stroke="#000" stroke-width="0.75" >I</text>
<text x="104.9" y="380.7" font-size="18" text-anchor="start" font-weight="normal" fill="#000" stroke="#000" stroke-width="0.3" >nSR</text>
<text x="272.5" y="380.7" font-size="18" text-anchor="start" font-weight="normal" fill="#000" stroke="#000" stroke-width="0.3" >cAF</text>
<text x="464" y="380.7" font-size="18" text-anchor="start" font-weight="normal" fill="#000" stroke="#000" stroke-width="0.3" >nSR</text>
<text x="626.5" y="380.7" font-size="18" text-anchor="start" font-weight="normal" fill="#000" stroke="#000" stroke-width="0.3" >cAF</text>
<path d="M53,389.9 H55.5 V490.3 H188.3" fill="none" stroke="#222" stroke-width="1.6"/>
<line x1="53" y1="440.1" x2="55.5" y2="440.1" stroke="#222" stroke-width="1.6"/>
<line x1="63.5" y1="490.3" x2="63.5" y2="492.8" stroke="#222" stroke-width="1.6"/>
<line x1="102.4" y1="490.3" x2="102.4" y2="492.8" stroke="#222" stroke-width="1.6"/>
<line x1="141.3" y1="490.3" x2="141.3" y2="492.8" stroke="#222" stroke-width="1.6"/>
<line x1="180.2" y1="490.3" x2="180.2" y2="492.8" stroke="#222" stroke-width="1.6"/>
<text x="50.7" y="393.7" font-size="14" text-anchor="end" font-weight="normal" fill="#000" stroke="#000" stroke-width="0.3" >450</text>
<text x="50.7" y="443.9" font-size="14" text-anchor="end" font-weight="normal" fill="#000" stroke="#000" stroke-width="0.3" >260</text>
<text x="50.7" y="494.1" font-size="14" text-anchor="end" font-weight="normal" fill="#000" stroke="#000" stroke-width="0.3" >70</text>
<text transform="translate(13.6,439.6) rotate(-90)" font-size="15.7" text-anchor="middle" stroke="#000" stroke-width="0.3" >APD<tspan font-size="10" dy="3">90</tspan><tspan dy="-3"> (ms)</tspan></text>
<polyline points="63.5,441.5 102.4,451.3 180.2,452.3" fill="none" stroke="#edb120" stroke-width="1.15" stroke-linejoin="round" stroke-linecap="butt" stroke-dasharray="2.6,2.2" />
<line x1="63.5" y1="437.5" x2="63.5" y2="445.5" stroke="#edb120" stroke-width="1.2"/>
<line x1="62" y1="437.5" x2="65" y2="437.5" stroke="#edb120" stroke-width="1"/>
<line x1="62" y1="445.5" x2="65" y2="445.5" stroke="#edb120" stroke-width="1"/>
<circle cx="63.5" cy="441.5" r="1.7" fill="#edb120" stroke="#edb120" stroke-width="0.6"/>
<circle cx="102.4" cy="451.3" r="1.7" fill="#edb120" stroke="#edb120" stroke-width="0.6"/>
<line x1="180.2" y1="447.3" x2="180.2" y2="457.3" stroke="#edb120" stroke-width="1.2"/>
<line x1="178.7" y1="447.3" x2="181.7" y2="447.3" stroke="#edb120" stroke-width="1"/>
<line x1="178.7" y1="457.3" x2="181.7" y2="457.3" stroke="#edb120" stroke-width="1"/>
<circle cx="180.2" cy="452.3" r="1.7" fill="#edb120" stroke="#edb120" stroke-width="0.6"/>
<polyline points="63.5,421 102.4,440 141.3,457 180.2,467.9" fill="none" stroke="#77ac30" stroke-width="1.15" stroke-linejoin="round" stroke-linecap="butt" stroke-dasharray="2.6,2.2" />
<line x1="63.5" y1="418" x2="63.5" y2="424" stroke="#77ac30" stroke-width="1.2"/>
<line x1="62" y1="418" x2="65" y2="418" stroke="#77ac30" stroke-width="1"/>
<line x1="62" y1="424" x2="65" y2="424" stroke="#77ac30" stroke-width="1"/>
<circle cx="63.5" cy="421" r="1.7" fill="#77ac30" stroke="#77ac30" stroke-width="0.6"/>
<circle cx="102.4" cy="440" r="1.7" fill="#77ac30" stroke="#77ac30" stroke-width="0.6"/>
<circle cx="141.3" cy="457" r="1.7" fill="#77ac30" stroke="#77ac30" stroke-width="0.6"/>
<circle cx="180.2" cy="467.9" r="1.7" fill="#77ac30" stroke="#77ac30" stroke-width="0.6"/>
<polyline points="63.5,431.8 102.4,447 141.3,462" fill="none" stroke="#4a0f28" stroke-width="1.15" stroke-linejoin="round" stroke-linecap="butt" stroke-dasharray="2.6,2.2" />
<line x1="63.5" y1="428.8" x2="63.5" y2="434.8" stroke="#4a0f28" stroke-width="1.2"/>
<line x1="62" y1="428.8" x2="65" y2="428.8" stroke="#4a0f28" stroke-width="1"/>
<line x1="62" y1="434.8" x2="65" y2="434.8" stroke="#4a0f28" stroke-width="1"/>
<circle cx="63.5" cy="431.8" r="1.7" fill="#4a0f28" stroke="#4a0f28" stroke-width="0.6"/>
<line x1="102.4" y1="438" x2="102.4" y2="456" stroke="#4a0f28" stroke-width="1.2"/>
<line x1="100.9" y1="438" x2="103.9" y2="438" stroke="#4a0f28" stroke-width="1"/>
<line x1="100.9" y1="456" x2="103.9" y2="456" stroke="#4a0f28" stroke-width="1"/>
<circle cx="102.4" cy="447" r="1.7" fill="#4a0f28" stroke="#4a0f28" stroke-width="0.6"/>
<circle cx="141.3" cy="462" r="1.7" fill="#4a0f28" stroke="#4a0f28" stroke-width="0.6"/>
<polyline points="63.5,424 141.3,456.2" fill="none" stroke="#22ccee" stroke-width="1.15" stroke-linejoin="round" stroke-linecap="butt" stroke-dasharray="2.6,2.2" />
<line x1="63.5" y1="421" x2="63.5" y2="427" stroke="#22ccee" stroke-width="1.2"/>
<line x1="62" y1="421" x2="65" y2="421" stroke="#22ccee" stroke-width="1"/>
<line x1="62" y1="427" x2="65" y2="427" stroke="#22ccee" stroke-width="1"/>
<circle cx="63.5" cy="424" r="1.7" fill="#22ccee" stroke="#22ccee" stroke-width="0.6"/>
<line x1="141.3" y1="453.2" x2="141.3" y2="459.2" stroke="#22ccee" stroke-width="1.2"/>
<line x1="139.8" y1="453.2" x2="142.8" y2="453.2" stroke="#22ccee" stroke-width="1"/>
<line x1="139.8" y1="459.2" x2="142.8" y2="459.2" stroke="#22ccee" stroke-width="1"/>
<circle cx="141.3" cy="456.2" r="1.7" fill="#22ccee" stroke="#22ccee" stroke-width="0.6"/>
<polyline points="76.34,423 82.95,424.4 89.56,430.2 102.4,431.8 121.85,440.6 141.3,449.3 154.14,453.2 180.2,463" fill="none" stroke="#3a8ff0" stroke-width="1.15" stroke-linejoin="round" stroke-linecap="butt" stroke-dasharray="2.6,2.2" />
<line x1="76.34" y1="411" x2="76.34" y2="435" stroke="#3a8ff0" stroke-width="1.2"/>
<line x1="74.84" y1="411" x2="77.84" y2="411" stroke="#3a8ff0" stroke-width="1"/>
<line x1="74.84" y1="435" x2="77.84" y2="435" stroke="#3a8ff0" stroke-width="1"/>
<circle cx="76.34" cy="423" r="1.5" fill="#3a8ff0"/>
<line x1="82.95" y1="412.4" x2="82.95" y2="436.4" stroke="#3a8ff0" stroke-width="1.2"/>
<line x1="81.45" y1="412.4" x2="84.45" y2="412.4" stroke="#3a8ff0" stroke-width="1"/>
<line x1="81.45" y1="436.4" x2="84.45" y2="436.4" stroke="#3a8ff0" stroke-width="1"/>
<circle cx="82.95" cy="424.4" r="1.5" fill="#3a8ff0"/>
<line x1="89.56" y1="419.2" x2="89.56" y2="441.2" stroke="#3a8ff0" stroke-width="1.2"/>
<line x1="88.06" y1="419.2" x2="91.06" y2="419.2" stroke="#3a8ff0" stroke-width="1"/>
<line x1="88.06" y1="441.2" x2="91.06" y2="441.2" stroke="#3a8ff0" stroke-width="1"/>
<circle cx="89.56" cy="430.2" r="1.5" fill="#3a8ff0"/>
<line x1="102.4" y1="422.8" x2="102.4" y2="440.8" stroke="#3a8ff0" stroke-width="1.2"/>
<line x1="100.9" y1="422.8" x2="103.9" y2="422.8" stroke="#3a8ff0" stroke-width="1"/>
<line x1="100.9" y1="440.8" x2="103.9" y2="440.8" stroke="#3a8ff0" stroke-width="1"/>
<circle cx="102.4" cy="431.8" r="1.5" fill="#3a8ff0"/>
<line x1="121.85" y1="434.6" x2="121.85" y2="446.6" stroke="#3a8ff0" stroke-width="1.2"/>
<line x1="120.35" y1="434.6" x2="123.35" y2="434.6" stroke="#3a8ff0" stroke-width="1"/>
<line x1="120.35" y1="446.6" x2="123.35" y2="446.6" stroke="#3a8ff0" stroke-width="1"/>
<circle cx="121.85" cy="440.6" r="1.5" fill="#3a8ff0"/>
<circle cx="141.3" cy="449.3" r="1.5" fill="#3a8ff0"/>
<line x1="154.14" y1="448.2" x2="154.14" y2="458.2" stroke="#3a8ff0" stroke-width="1.2"/>
<line x1="152.64" y1="448.2" x2="155.64" y2="448.2" stroke="#3a8ff0" stroke-width="1"/>
<line x1="152.64" y1="458.2" x2="155.64" y2="458.2" stroke="#3a8ff0" stroke-width="1"/>
<circle cx="154.14" cy="453.2" r="1.5" fill="#3a8ff0"/>
<line x1="180.2" y1="459" x2="180.2" y2="467" stroke="#3a8ff0" stroke-width="1.2"/>
<line x1="178.7" y1="459" x2="181.7" y2="459" stroke="#3a8ff0" stroke-width="1"/>
<line x1="178.7" y1="467" x2="181.7" y2="467" stroke="#3a8ff0" stroke-width="1"/>
<circle cx="180.2" cy="463" r="1.5" fill="#3a8ff0"/>
<line x1="102.4" y1="456" x2="102.4" y2="466" stroke="#0072bd" stroke-width="1.2"/>
<line x1="100.9" y1="456" x2="103.9" y2="456" stroke="#0072bd" stroke-width="1"/>
<line x1="100.9" y1="466" x2="103.9" y2="466" stroke="#0072bd" stroke-width="1"/>
<path d="M102.4,458.5 L104.4,461 L102.4,463.5 L100.4,461Z" fill="#0072bd"/>
<polyline points="63.5,399 76.34,406 89.56,415.8 102.4,428.9" fill="none" stroke="#7e2f8e" stroke-width="1.15" stroke-linejoin="round" stroke-linecap="butt" stroke-dasharray="2.6,2.2" />
<circle cx="63.5" cy="399" r="1.9" fill="#fff" stroke="#7e2f8e" stroke-width="0.9"/>
<circle cx="76.34" cy="406" r="1.9" fill="#fff" stroke="#7e2f8e" stroke-width="0.9"/>
<circle cx="89.56" cy="415.8" r="1.9" fill="#fff" stroke="#7e2f8e" stroke-width="0.9"/>
<circle cx="102.4" cy="428.9" r="1.9" fill="#fff" stroke="#7e2f8e" stroke-width="0.9"/>
<circle cx="89.56" cy="415.8" r="1.7" fill="#7e2f8e" stroke="#7e2f8e" stroke-width="0.6"/>
<circle cx="102.4" cy="428.9" r="1.7" fill="#7e2f8e" stroke="#7e2f8e" stroke-width="0.6"/>
<line x1="63.5" y1="451.2" x2="63.5" y2="457.2" stroke="#ff00ff" stroke-width="1.2"/>
<line x1="62" y1="451.2" x2="65" y2="451.2" stroke="#ff00ff" stroke-width="1"/>
<line x1="62" y1="457.2" x2="65" y2="457.2" stroke="#ff00ff" stroke-width="1"/>
<circle cx="63.5" cy="454.2" r="1.7" fill="#ff00ff" stroke="#ff00ff" stroke-width="0.6"/>
<line x1="63.5" y1="453.2" x2="63.5" y2="459.2" stroke="#a2142f" stroke-width="1.2"/>
<line x1="62" y1="453.2" x2="65" y2="453.2" stroke="#a2142f" stroke-width="1"/>
<line x1="62" y1="459.2" x2="65" y2="459.2" stroke="#a2142f" stroke-width="1"/>
<circle cx="63.5" cy="456.2" r="1.7" fill="#a2142f" stroke="#a2142f" stroke-width="0.6"/>
<line x1="63.5" y1="455" x2="63.5" y2="459" stroke="#d95319" stroke-width="1.2"/>
<line x1="62" y1="455" x2="65" y2="455" stroke="#d95319" stroke-width="1"/>
<line x1="62" y1="459" x2="65" y2="459" stroke="#d95319" stroke-width="1"/>
<circle cx="63.5" cy="457" r="1.7" fill="#d95319" stroke="#d95319" stroke-width="0.6"/>
<polyline points="63.5,429.5 82.95,436 102.4,441.5 121.85,446.5 141.3,450.9 160.75,452.3 180.2,451.3" fill="none" stroke="#000" stroke-width="2.2" stroke-linejoin="round" stroke-linecap="butt" />
<polyline points="63.5,431.8 82.95,437.5 102.4,441.9 121.85,446.8 141.3,451.3 160.75,453 180.2,454.8" fill="none" stroke="#f41414" stroke-width="2.2" stroke-linejoin="round" stroke-linecap="butt" />
<path d="M221.4,389.9 H223.9 V490.3 H356.6" fill="none" stroke="#222" stroke-width="1.6"/>
<line x1="221.4" y1="440.1" x2="223.9" y2="440.1" stroke="#222" stroke-width="1.6"/>
<line x1="231.3" y1="490.3" x2="231.3" y2="492.8" stroke="#222" stroke-width="1.6"/>
<line x1="270.37" y1="490.3" x2="270.37" y2="492.8" stroke="#222" stroke-width="1.6"/>
<line x1="309.43" y1="490.3" x2="309.43" y2="492.8" stroke="#222" stroke-width="1.6"/>
<line x1="348.5" y1="490.3" x2="348.5" y2="492.8" stroke="#222" stroke-width="1.6"/>
<text x="219.1" y="393.7" font-size="14" text-anchor="end" font-weight="normal" fill="#000" stroke="#000" stroke-width="0.3" >450</text>
<text x="219.1" y="443.9" font-size="14" text-anchor="end" font-weight="normal" fill="#000" stroke="#000" stroke-width="0.3" >260</text>
<text x="219.1" y="494.1" font-size="14" text-anchor="end" font-weight="normal" fill="#000" stroke="#000" stroke-width="0.3" >70</text>
<polyline points="231.3,481.1 270.37,481.1 348.5,482.5" fill="none" stroke="#edb120" stroke-width="1.15" stroke-linejoin="round" stroke-linecap="butt" stroke-dasharray="2.6,2.2" />
<line x1="231.3" y1="479.1" x2="231.3" y2="483.1" stroke="#edb120" stroke-width="1.2"/>
<line x1="229.8" y1="479.1" x2="232.8" y2="479.1" stroke="#edb120" stroke-width="1"/>
<line x1="229.8" y1="483.1" x2="232.8" y2="483.1" stroke="#edb120" stroke-width="1"/>
<circle cx="231.3" cy="481.1" r="1.7" fill="#edb120" stroke="#edb120" stroke-width="0.6"/>
<circle cx="270.37" cy="481.1" r="1.7" fill="#edb120" stroke="#edb120" stroke-width="0.6"/>
<line x1="348.5" y1="480.5" x2="348.5" y2="484.5" stroke="#edb120" stroke-width="1.2"/>
<line x1="347" y1="480.5" x2="350" y2="480.5" stroke="#edb120" stroke-width="1"/>
<line x1="347" y1="484.5" x2="350" y2="484.5" stroke="#edb120" stroke-width="1"/>
<circle cx="348.5" cy="482.5" r="1.7" fill="#edb120" stroke="#edb120" stroke-width="0.6"/>
<polyline points="231.3,456.2 270.37,461.4 309.43,466.9 348.5,469.8" fill="none" stroke="#77ac30" stroke-width="1.15" stroke-linejoin="round" stroke-linecap="butt" stroke-dasharray="2.6,2.2" />
<line x1="231.3" y1="454.2" x2="231.3" y2="458.2" stroke="#77ac30" stroke-width="1.2"/>
<line x1="229.8" y1="454.2" x2="232.8" y2="454.2" stroke="#77ac30" stroke-width="1"/>
<line x1="229.8" y1="458.2" x2="232.8" y2="458.2" stroke="#77ac30" stroke-width="1"/>
<circle cx="231.3" cy="456.2" r="1.7" fill="#77ac30" stroke="#77ac30" stroke-width="0.6"/>
<line x1="270.37" y1="457.4" x2="270.37" y2="465.4" stroke="#77ac30" stroke-width="1.2"/>
<line x1="268.87" y1="457.4" x2="271.87" y2="457.4" stroke="#77ac30" stroke-width="1"/>
<line x1="268.87" y1="465.4" x2="271.87" y2="465.4" stroke="#77ac30" stroke-width="1"/>
<circle cx="270.37" cy="461.4" r="1.7" fill="#77ac30" stroke="#77ac30" stroke-width="0.6"/>
<line x1="309.43" y1="464.9" x2="309.43" y2="468.9" stroke="#77ac30" stroke-width="1.2"/>
<line x1="307.93" y1="464.9" x2="310.93" y2="464.9" stroke="#77ac30" stroke-width="1"/>
<line x1="307.93" y1="468.9" x2="310.93" y2="468.9" stroke="#77ac30" stroke-width="1"/>
<circle cx="309.43" cy="466.9" r="1.7" fill="#77ac30" stroke="#77ac30" stroke-width="0.6"/>
<line x1="348.5" y1="466.8" x2="348.5" y2="472.8" stroke="#77ac30" stroke-width="1.2"/>
<line x1="347" y1="466.8" x2="350" y2="466.8" stroke="#77ac30" stroke-width="1"/>
<line x1="347" y1="472.8" x2="350" y2="472.8" stroke="#77ac30" stroke-width="1"/>
<circle cx="348.5" cy="469.8" r="1.7" fill="#77ac30" stroke="#77ac30" stroke-width="0.6"/>
<polyline points="231.3,452.3 309.43,462" fill="none" stroke="#22ccee" stroke-width="1.15" stroke-linejoin="round" stroke-linecap="butt" stroke-dasharray="2.6,2.2" />
<line x1="231.3" y1="449.3" x2="231.3" y2="455.3" stroke="#22ccee" stroke-width="1.2"/>
<line x1="229.8" y1="449.3" x2="232.8" y2="449.3" stroke="#22ccee" stroke-width="1"/>
<line x1="229.8" y1="455.3" x2="232.8" y2="455.3" stroke="#22ccee" stroke-width="1"/>
<circle cx="231.3" cy="452.3" r="1.7" fill="#22ccee" stroke="#22ccee" stroke-width="0.6"/>
<line x1="309.43" y1="459" x2="309.43" y2="465" stroke="#22ccee" stroke-width="1.2"/>
<line x1="307.93" y1="459" x2="310.93" y2="459" stroke="#22ccee" stroke-width="1"/>
<line x1="307.93" y1="465" x2="310.93" y2="465" stroke="#22ccee" stroke-width="1"/>
<circle cx="309.43" cy="462" r="1.7" fill="#22ccee" stroke="#22ccee" stroke-width="0.6"/>
<polyline points="241.07,441.5 247.71,445.4 257.47,447.4 270.37,450 309.43,459 348.5,464" fill="none" stroke="#3a8ff0" stroke-width="1.15" stroke-linejoin="round" stroke-linecap="butt" stroke-dasharray="2.6,2.2" />
<line x1="241.07" y1="432.5" x2="241.07" y2="450.5" stroke="#3a8ff0" stroke-width="1.2"/>
<line x1="239.57" y1="432.5" x2="242.57" y2="432.5" stroke="#3a8ff0" stroke-width="1"/>
<line x1="239.57" y1="450.5" x2="242.57" y2="450.5" stroke="#3a8ff0" stroke-width="1"/>
<circle cx="241.07" cy="441.5" r="1.5" fill="#3a8ff0"/>
<line x1="247.71" y1="437.4" x2="247.71" y2="453.4" stroke="#3a8ff0" stroke-width="1.2"/>
<line x1="246.21" y1="437.4" x2="249.21" y2="437.4" stroke="#3a8ff0" stroke-width="1"/>
<line x1="246.21" y1="453.4" x2="249.21" y2="453.4" stroke="#3a8ff0" stroke-width="1"/>
<circle cx="247.71" cy="445.4" r="1.5" fill="#3a8ff0"/>
<line x1="257.47" y1="441.4" x2="257.47" y2="453.4" stroke="#3a8ff0" stroke-width="1.2"/>
<line x1="255.97" y1="441.4" x2="258.97" y2="441.4" stroke="#3a8ff0" stroke-width="1"/>
<line x1="255.97" y1="453.4" x2="258.97" y2="453.4" stroke="#3a8ff0" stroke-width="1"/>
<circle cx="257.47" cy="447.4" r="1.5" fill="#3a8ff0"/>
<circle cx="270.37" cy="450" r="1.5" fill="#3a8ff0"/>
<circle cx="309.43" cy="459" r="1.5" fill="#3a8ff0"/>
<line x1="348.5" y1="456" x2="348.5" y2="472" stroke="#3a8ff0" stroke-width="1.2"/>
<line x1="347" y1="456" x2="350" y2="456" stroke="#3a8ff0" stroke-width="1"/>
<line x1="347" y1="472" x2="350" y2="472" stroke="#3a8ff0" stroke-width="1"/>
<circle cx="348.5" cy="464" r="1.5" fill="#3a8ff0"/>
<polyline points="231.3,447 270.37,448.4 289.9,449.3 322.33,459.1" fill="none" stroke="#7e2f8e" stroke-width="1.15" stroke-linejoin="round" stroke-linecap="butt" stroke-dasharray="2.6,2.2" />
<line x1="231.3" y1="440" x2="231.3" y2="454" stroke="#7e2f8e" stroke-width="1.2"/>
<line x1="229.8" y1="440" x2="232.8" y2="440" stroke="#7e2f8e" stroke-width="1"/>
<line x1="229.8" y1="454" x2="232.8" y2="454" stroke="#7e2f8e" stroke-width="1"/>
<circle cx="231.3" cy="447" r="1.7" fill="#7e2f8e" stroke="#7e2f8e" stroke-width="0.6"/>
<line x1="270.37" y1="442.4" x2="270.37" y2="454.4" stroke="#7e2f8e" stroke-width="1.2"/>
<line x1="268.87" y1="442.4" x2="271.87" y2="442.4" stroke="#7e2f8e" stroke-width="1"/>
<line x1="268.87" y1="454.4" x2="271.87" y2="454.4" stroke="#7e2f8e" stroke-width="1"/>
<circle cx="270.37" cy="448.4" r="1.7" fill="#7e2f8e" stroke="#7e2f8e" stroke-width="0.6"/>
<line x1="289.9" y1="439.3" x2="289.9" y2="459.3" stroke="#7e2f8e" stroke-width="1.2"/>
<line x1="288.4" y1="439.3" x2="291.4" y2="439.3" stroke="#7e2f8e" stroke-width="1"/>
<line x1="288.4" y1="459.3" x2="291.4" y2="459.3" stroke="#7e2f8e" stroke-width="1"/>
<circle cx="289.9" cy="449.3" r="1.7" fill="#7e2f8e" stroke="#7e2f8e" stroke-width="0.6"/>
<line x1="322.33" y1="452.1" x2="322.33" y2="466.1" stroke="#7e2f8e" stroke-width="1.2"/>
<line x1="320.83" y1="452.1" x2="323.83" y2="452.1" stroke="#7e2f8e" stroke-width="1"/>
<line x1="320.83" y1="466.1" x2="323.83" y2="466.1" stroke="#7e2f8e" stroke-width="1"/>
<circle cx="322.33" cy="459.1" r="1.7" fill="#7e2f8e" stroke="#7e2f8e" stroke-width="0.6"/>
<circle cx="231.3" cy="468.8" r="1.7" fill="#ff00ff" stroke="#ff00ff" stroke-width="0.6"/>
<line x1="231.3" y1="469.7" x2="231.3" y2="475.7" stroke="#d95319" stroke-width="1.2"/>
<line x1="229.8" y1="469.7" x2="232.8" y2="469.7" stroke="#d95319" stroke-width="1"/>
<line x1="229.8" y1="475.7" x2="232.8" y2="475.7" stroke="#d95319" stroke-width="1"/>
<circle cx="231.3" cy="472.7" r="1.7" fill="#d95319" stroke="#d95319" stroke-width="0.6"/>
<line x1="270.37" y1="466.2" x2="270.37" y2="474.2" stroke="#a2142f" stroke-width="1.2"/>
<line x1="268.87" y1="466.2" x2="271.87" y2="466.2" stroke="#a2142f" stroke-width="1"/>
<line x1="268.87" y1="474.2" x2="271.87" y2="474.2" stroke="#a2142f" stroke-width="1"/>
<circle cx="270.37" cy="470.2" r="1.7" fill="#a2142f" stroke="#a2142f" stroke-width="0.6"/>
<polyline points="231.3,447.8 270.37,453.2 309.43,459.1 322.33,459.5 348.5,458.1" fill="none" stroke="#000" stroke-width="2.2" stroke-linejoin="round" stroke-linecap="butt" />
<polyline points="289.9,456 309.43,459.8 328.97,470.8 348.5,475.7" fill="none" stroke="#000" stroke-width="2.2" stroke-linejoin="round" stroke-linecap="butt" />
<polyline points="231.3,450.3 270.37,454.8 309.43,459.5 328.97,461.8 348.5,464" fill="none" stroke="#f41414" stroke-width="2.2" stroke-linejoin="round" stroke-linecap="butt" />
<polyline points="309.43,459.5 328.97,465 348.5,471.4" fill="none" stroke="#f41414" stroke-width="2.2" stroke-linejoin="round" stroke-linecap="butt" />
<path d="M416.2,389.9 H418.7 V488.6 H549.5" fill="none" stroke="#222" stroke-width="1.6"/>
<line x1="416.2" y1="439.25" x2="418.7" y2="439.25" stroke="#222" stroke-width="1.6"/>
<line x1="426.7" y1="488.6" x2="426.7" y2="491.1" stroke="#222" stroke-width="1.6"/>
<line x1="465.03" y1="488.6" x2="465.03" y2="491.1" stroke="#222" stroke-width="1.6"/>
<line x1="503.37" y1="488.6" x2="503.37" y2="491.1" stroke="#222" stroke-width="1.6"/>
<line x1="541.7" y1="488.6" x2="541.7" y2="491.1" stroke="#222" stroke-width="1.6"/>
<text x="413.9" y="393.7" font-size="14" text-anchor="end" font-weight="normal" fill="#000" stroke="#000" stroke-width="0.3" >200</text>
<text x="413.9" y="443.05" font-size="14" text-anchor="end" font-weight="normal" fill="#000" stroke="#000" stroke-width="0.3" >110</text>
<text x="413.9" y="492.4" font-size="14" text-anchor="end" font-weight="normal" fill="#000" stroke="#000" stroke-width="0.3" >20</text>
<text transform="translate(378.2,439.2) rotate(-90)" font-size="15.8" text-anchor="middle" stroke="#000" stroke-width="0.3" >APD<tspan font-size="10" dy="3">50</tspan><tspan dy="-3"> (ms)</tspan></text>
<polyline points="426.7,426 465.03,439.6 503.37,464 541.7,473.1" fill="none" stroke="#77ac30" stroke-width="1.15" stroke-linejoin="round" stroke-linecap="butt" stroke-dasharray="2.6,2.2" />
<line x1="426.7" y1="419" x2="426.7" y2="433" stroke="#77ac30" stroke-width="1.2"/>
<line x1="425.2" y1="419" x2="428.2" y2="419" stroke="#77ac30" stroke-width="1"/>
<line x1="425.2" y1="433" x2="428.2" y2="433" stroke="#77ac30" stroke-width="1"/>
<circle cx="426.7" cy="426" r="1.7" fill="#77ac30" stroke="#77ac30" stroke-width="0.6"/>
<line x1="465.03" y1="434.6" x2="465.03" y2="444.6" stroke="#77ac30" stroke-width="1.2"/>
<line x1="463.53" y1="434.6" x2="466.53" y2="434.6" stroke="#77ac30" stroke-width="1"/>
<line x1="463.53" y1="444.6" x2="466.53" y2="444.6" stroke="#77ac30" stroke-width="1"/>
<circle cx="465.03" cy="439.6" r="1.7" fill="#77ac30" stroke="#77ac30" stroke-width="0.6"/>
<circle cx="503.37" cy="464" r="1.7" fill="#77ac30" stroke="#77ac30" stroke-width="0.6"/>
<line x1="541.7" y1="470.1" x2="541.7" y2="476.1" stroke="#77ac30" stroke-width="1.2"/>
<line x1="540.2" y1="470.1" x2="543.2" y2="470.1" stroke="#77ac30" stroke-width="1"/>
<line x1="540.2" y1="476.1" x2="543.2" y2="476.1" stroke="#77ac30" stroke-width="1"/>
<circle cx="541.7" cy="473.1" r="1.7" fill="#77ac30" stroke="#77ac30" stroke-width="0.6"/>
<polyline points="426.7,429.5 465.03,446 503.37,461" fill="none" stroke="#4a0f28" stroke-width="1.15" stroke-linejoin="round" stroke-linecap="butt" stroke-dasharray="2.6,2.2" />
<line x1="426.7" y1="424.5" x2="426.7" y2="434.5" stroke="#4a0f28" stroke-width="1.2"/>
<line x1="425.2" y1="424.5" x2="428.2" y2="424.5" stroke="#4a0f28" stroke-width="1"/>
<line x1="425.2" y1="434.5" x2="428.2" y2="434.5" stroke="#4a0f28" stroke-width="1"/>
<circle cx="426.7" cy="429.5" r="1.7" fill="#4a0f28" stroke="#4a0f28" stroke-width="0.6"/>
<circle cx="465.03" cy="446" r="1.7" fill="#4a0f28" stroke="#4a0f28" stroke-width="0.6"/>
<line x1="503.37" y1="456" x2="503.37" y2="466" stroke="#4a0f28" stroke-width="1.2"/>
<line x1="501.87" y1="456" x2="504.87" y2="456" stroke="#4a0f28" stroke-width="1"/>
<line x1="501.87" y1="466" x2="504.87" y2="466" stroke="#4a0f28" stroke-width="1"/>
<circle cx="503.37" cy="461" r="1.7" fill="#4a0f28" stroke="#4a0f28" stroke-width="0.6"/>
<polyline points="426.7,395.3 439.35,395.3 452.38,426.5 465.03,449" fill="none" stroke="#7e2f8e" stroke-width="1.15" stroke-linejoin="round" stroke-linecap="butt" stroke-dasharray="2.6,2.2" />
<circle cx="426.7" cy="395.3" r="1.9" fill="#fff" stroke="#7e2f8e" stroke-width="0.9"/>
<circle cx="439.35" cy="395.3" r="1.9" fill="#fff" stroke="#7e2f8e" stroke-width="0.9"/>
<circle cx="452.38" cy="426.5" r="1.9" fill="#fff" stroke="#7e2f8e" stroke-width="0.9"/>
<circle cx="465.03" cy="449" r="1.9" fill="#fff" stroke="#7e2f8e" stroke-width="0.9"/>
<circle cx="452.38" cy="426.5" r="1.7" fill="#7e2f8e" stroke="#7e2f8e" stroke-width="0.6"/>
<line x1="426.7" y1="455.6" x2="426.7" y2="465.6" stroke="#ff00ff" stroke-width="1.2"/>
<line x1="425.2" y1="455.6" x2="428.2" y2="455.6" stroke="#ff00ff" stroke-width="1"/>
<line x1="425.2" y1="465.6" x2="428.2" y2="465.6" stroke="#ff00ff" stroke-width="1"/>
<circle cx="426.7" cy="460.6" r="1.7" fill="#ff00ff" stroke="#ff00ff" stroke-width="0.6"/>
<line x1="426.7" y1="455.3" x2="426.7" y2="475.3" stroke="#d95319" stroke-width="1.2"/>
<line x1="425.2" y1="455.3" x2="428.2" y2="455.3" stroke="#d95319" stroke-width="1"/>
<line x1="425.2" y1="475.3" x2="428.2" y2="475.3" stroke="#d95319" stroke-width="1"/>
<circle cx="426.7" cy="465.3" r="1.7" fill="#d95319" stroke="#d95319" stroke-width="0.6"/>
<polyline points="426.7,440.2 465.03,446.4 503.37,453.2 522.53,452.3 541.7,443.5" fill="none" stroke="#000" stroke-width="2.2" stroke-linejoin="round" stroke-linecap="butt" />
<polyline points="426.7,434.3 465.03,441.5 503.37,449.3 522.53,450.3 541.7,444.5" fill="none" stroke="#f41414" stroke-width="2.2" stroke-linejoin="round" stroke-linecap="butt" />
<path d="M579.8,388.8 H582.3 V488.2 H712.6" fill="none" stroke="#222" stroke-width="1.6"/>
<line x1="579.8" y1="438.5" x2="582.3" y2="438.5" stroke="#222" stroke-width="1.6"/>
<line x1="590.1" y1="488.2" x2="590.1" y2="490.7" stroke="#222" stroke-width="1.6"/>
<line x1="628.3" y1="488.2" x2="628.3" y2="490.7" stroke="#222" stroke-width="1.6"/>
<line x1="666.5" y1="488.2" x2="666.5" y2="490.7" stroke="#222" stroke-width="1.6"/>
<line x1="704.7" y1="488.2" x2="704.7" y2="490.7" stroke="#222" stroke-width="1.6"/>
<text x="577.5" y="392.6" font-size="14" text-anchor="end" font-weight="normal" fill="#000" stroke="#000" stroke-width="0.3" >200</text>
<text x="577.5" y="442.3" font-size="14" text-anchor="end" font-weight="normal" fill="#000" stroke="#000" stroke-width="0.3" >110</text>
<text x="577.5" y="492" font-size="14" text-anchor="end" font-weight="normal" fill="#000" stroke="#000" stroke-width="0.3" >20</text>
<polyline points="590.1,452.3 628.3,451.3 647.4,447" fill="none" stroke="#7e2f8e" stroke-width="1.15" stroke-linejoin="round" stroke-linecap="butt" stroke-dasharray="2.6,2.2" />
<line x1="590.1" y1="442.3" x2="590.1" y2="462.3" stroke="#7e2f8e" stroke-width="1.2"/>
<line x1="588.6" y1="442.3" x2="591.6" y2="442.3" stroke="#7e2f8e" stroke-width="1"/>
<line x1="588.6" y1="462.3" x2="591.6" y2="462.3" stroke="#7e2f8e" stroke-width="1"/>
<circle cx="590.1" cy="452.3" r="1.7" fill="#7e2f8e" stroke="#7e2f8e" stroke-width="0.6"/>
<line x1="628.3" y1="434.3" x2="628.3" y2="468.3" stroke="#7e2f8e" stroke-width="1.2"/>
<line x1="626.8" y1="434.3" x2="629.8" y2="434.3" stroke="#7e2f8e" stroke-width="1"/>
<line x1="626.8" y1="468.3" x2="629.8" y2="468.3" stroke="#7e2f8e" stroke-width="1"/>
<circle cx="628.3" cy="451.3" r="1.7" fill="#7e2f8e" stroke="#7e2f8e" stroke-width="0.6"/>
<line x1="647.4" y1="433" x2="647.4" y2="461" stroke="#7e2f8e" stroke-width="1.2"/>
<line x1="645.9" y1="433" x2="648.9" y2="433" stroke="#7e2f8e" stroke-width="1"/>
<line x1="645.9" y1="461" x2="648.9" y2="461" stroke="#7e2f8e" stroke-width="1"/>
<circle cx="647.4" cy="447" r="1.7" fill="#7e2f8e" stroke="#7e2f8e" stroke-width="0.6"/>
<polyline points="628.3,448 666.5,448.4" fill="none" stroke="#4a0f28" stroke-width="1.15" stroke-linejoin="round" stroke-linecap="butt" stroke-dasharray="2.6,2.2" />
<circle cx="628.3" cy="448" r="1.7" fill="#4a0f28" stroke="#4a0f28" stroke-width="0.6"/>
<line x1="666.5" y1="441.4" x2="666.5" y2="455.4" stroke="#4a0f28" stroke-width="1.2"/>
<line x1="665" y1="441.4" x2="668" y2="441.4" stroke="#4a0f28" stroke-width="1"/>
<line x1="665" y1="455.4" x2="668" y2="455.4" stroke="#4a0f28" stroke-width="1"/>
<circle cx="666.5" cy="448.4" r="1.7" fill="#4a0f28" stroke="#4a0f28" stroke-width="0.6"/>
<line x1="679.11" y1="447.2" x2="679.11" y2="461.2" stroke="#3a8ff0" stroke-width="1.2"/>
<line x1="677.61" y1="447.2" x2="680.61" y2="447.2" stroke="#3a8ff0" stroke-width="1"/>
<line x1="677.61" y1="461.2" x2="680.61" y2="461.2" stroke="#3a8ff0" stroke-width="1"/>
<circle cx="679.11" cy="454.2" r="1.5" fill="#3a8ff0"/>
<polyline points="647.4,454 704.7,458.7" fill="none" stroke="#77ac30" stroke-width="1.15" stroke-linejoin="round" stroke-linecap="butt" stroke-dasharray="2.6,2.2" />
<circle cx="647.4" cy="454" r="1.7" fill="#77ac30" stroke="#77ac30" stroke-width="0.6"/>
<line x1="704.7" y1="456.7" x2="704.7" y2="460.7" stroke="#77ac30" stroke-width="1.2"/>
<line x1="703.2" y1="456.7" x2="706.2" y2="456.7" stroke="#77ac30" stroke-width="1"/>
<line x1="703.2" y1="460.7" x2="706.2" y2="460.7" stroke="#77ac30" stroke-width="1"/>
<circle cx="704.7" cy="458.7" r="1.7" fill="#77ac30" stroke="#77ac30" stroke-width="0.6"/>
<line x1="590.1" y1="456.1" x2="590.1" y2="460.1" stroke="#ff00ff" stroke-width="1.2"/>
<line x1="588.6" y1="456.1" x2="591.6" y2="456.1" stroke="#ff00ff" stroke-width="1"/>
<line x1="588.6" y1="460.1" x2="591.6" y2="460.1" stroke="#ff00ff" stroke-width="1"/>
<circle cx="590.1" cy="458.1" r="1.7" fill="#ff00ff" stroke="#ff00ff" stroke-width="0.6"/>
<circle cx="590.1" cy="484" r="1.7" fill="#d95319" stroke="#d95319" stroke-width="0.6"/>
<polyline points="590.1,442.5 609.2,442.5 628.3,445 647.4,449.3 666.5,451.3 679.11,454.2 704.7,457.1" fill="none" stroke="#000" stroke-width="2.2" stroke-linejoin="round" stroke-linecap="butt" />
<polyline points="628.3,445 647.4,454.2 666.5,460.1 685.6,463 704.7,466.9" fill="none" stroke="#000" stroke-width="2.2" stroke-linejoin="round" stroke-linecap="butt" />
<polyline points="590.1,442.1 609.2,442.5 628.3,444.5 647.4,449.3 666.5,454.2 685.6,457.1 704.7,458.1" fill="none" stroke="#f41414" stroke-width="2.2" stroke-linejoin="round" stroke-linecap="butt" />
<polyline points="679.11,455.5 704.7,462.6" fill="none" stroke="#f41414" stroke-width="2.2" stroke-linejoin="round" stroke-linecap="butt" />
<path d="M53,540 H55.5 V640.3 H192" fill="none" stroke="#222" stroke-width="1.6"/>
<line x1="53" y1="590.15" x2="55.5" y2="590.15" stroke="#222" stroke-width="1.6"/>
<line x1="63.7" y1="640.3" x2="63.7" y2="642.8" stroke="#222" stroke-width="1.6"/>
<line x1="103.47" y1="640.3" x2="103.47" y2="642.8" stroke="#222" stroke-width="1.6"/>
<line x1="143.23" y1="640.3" x2="143.23" y2="642.8" stroke="#222" stroke-width="1.6"/>
<line x1="183" y1="640.3" x2="183" y2="642.8" stroke="#222" stroke-width="1.6"/>
<text x="50.7" y="543.8" font-size="14" text-anchor="end" font-weight="normal" fill="#000" stroke="#000" stroke-width="0.3" >-60</text>
<text x="50.7" y="593.95" font-size="14" text-anchor="end" font-weight="normal" fill="#000" stroke="#000" stroke-width="0.3" >-75</text>
<text x="50.7" y="644.1" font-size="14" text-anchor="end" font-weight="normal" fill="#000" stroke="#000" stroke-width="0.3" >-90</text>
<text transform="translate(14,590) rotate(-90)" font-size="15.5" text-anchor="middle" stroke="#000" stroke-width="0.3" >RMP (mV)</text>
<line x1="63.7" y1="554" x2="63.7" y2="566" stroke="#ff00ff" stroke-width="1.2"/>
<line x1="62.2" y1="554" x2="65.2" y2="554" stroke="#ff00ff" stroke-width="1"/>
<line x1="62.2" y1="566" x2="65.2" y2="566" stroke="#ff00ff" stroke-width="1"/>
<circle cx="63.7" cy="560" r="1.7" fill="#ff00ff" stroke="#ff00ff" stroke-width="0.6"/>
<line x1="63.7" y1="562.2" x2="63.7" y2="572.2" stroke="#0072bd" stroke-width="1.2"/>
<line x1="62.2" y1="562.2" x2="65.2" y2="562.2" stroke="#0072bd" stroke-width="1"/>
<line x1="62.2" y1="572.2" x2="65.2" y2="572.2" stroke="#0072bd" stroke-width="1"/>
<path d="M63.7,564.7 L65.7,567.2 L63.7,569.7 L61.7,567.2Z" fill="#0072bd"/>
<polyline points="63.7,582.2 143.23,579.5" fill="none" stroke="#22ccee" stroke-width="1.15" stroke-linejoin="round" stroke-linecap="butt" stroke-dasharray="2.6,2.2" />
<line x1="63.7" y1="579.2" x2="63.7" y2="585.2" stroke="#22ccee" stroke-width="1.2"/>
<line x1="62.2" y1="579.2" x2="65.2" y2="579.2" stroke="#22ccee" stroke-width="1"/>
<line x1="62.2" y1="585.2" x2="65.2" y2="585.2" stroke="#22ccee" stroke-width="1"/>
<circle cx="63.7" cy="582.2" r="1.7" fill="#22ccee" stroke="#22ccee" stroke-width="0.6"/>
<line x1="143.23" y1="575.5" x2="143.23" y2="583.5" stroke="#22ccee" stroke-width="1.2"/>
<line x1="141.73" y1="575.5" x2="144.73" y2="575.5" stroke="#22ccee" stroke-width="1"/>
<line x1="141.73" y1="583.5" x2="144.73" y2="583.5" stroke="#22ccee" stroke-width="1"/>
<circle cx="143.23" cy="579.5" r="1.7" fill="#22ccee" stroke="#22ccee" stroke-width="0.6"/>
<polyline points="63.7,586.7 143.23,585.3" fill="none" stroke="#4a0f28" stroke-width="1.15" stroke-linejoin="round" stroke-linecap="butt" stroke-dasharray="2.6,2.2" />
<circle cx="63.7" cy="586.7" r="1.7" fill="#4a0f28" stroke="#4a0f28" stroke-width="0.6"/>
<line x1="143.23" y1="581.3" x2="143.23" y2="589.3" stroke="#4a0f28" stroke-width="1.2"/>
<line x1="141.73" y1="581.3" x2="144.73" y2="581.3" stroke="#4a0f28" stroke-width="1"/>
<line x1="141.73" y1="589.3" x2="144.73" y2="589.3" stroke="#4a0f28" stroke-width="1"/>
<circle cx="143.23" cy="585.3" r="1.7" fill="#4a0f28" stroke="#4a0f28" stroke-width="0.6"/>
<polyline points="63.7,593.5 103.47,594.5 143.23,594.1 183,586.7" fill="none" stroke="#77ac30" stroke-width="1.15" stroke-linejoin="round" stroke-linecap="butt" stroke-dasharray="2.6,2.2" />
<line x1="63.7" y1="591.5" x2="63.7" y2="595.5" stroke="#77ac30" stroke-width="1.2"/>
<line x1="62.2" y1="591.5" x2="65.2" y2="591.5" stroke="#77ac30" stroke-width="1"/>
<line x1="62.2" y1="595.5" x2="65.2" y2="595.5" stroke="#77ac30" stroke-width="1"/>
<circle cx="63.7" cy="593.5" r="1.7" fill="#77ac30" stroke="#77ac30" stroke-width="0.6"/>
<line x1="103.47" y1="591.5" x2="103.47" y2="597.5" stroke="#77ac30" stroke-width="1.2"/>
<line x1="101.97" y1="591.5" x2="104.97" y2="591.5" stroke="#77ac30" stroke-width="1"/>
<line x1="101.97" y1="597.5" x2="104.97" y2="597.5" stroke="#77ac30" stroke-width="1"/>
<circle cx="103.47" cy="594.5" r="1.7" fill="#77ac30" stroke="#77ac30" stroke-width="0.6"/>
<line x1="143.23" y1="591.1" x2="143.23" y2="597.1" stroke="#77ac30" stroke-width="1.2"/>
<line x1="141.73" y1="591.1" x2="144.73" y2="591.1" stroke="#77ac30" stroke-width="1"/>
<line x1="141.73" y1="597.1" x2="144.73" y2="597.1" stroke="#77ac30" stroke-width="1"/>
<circle cx="143.23" cy="594.1" r="1.7" fill="#77ac30" stroke="#77ac30" stroke-width="0.6"/>
<line x1="183" y1="581.7" x2="183" y2="591.7" stroke="#77ac30" stroke-width="1.2"/>
<line x1="181.5" y1="581.7" x2="184.5" y2="581.7" stroke="#77ac30" stroke-width="1"/>
<line x1="181.5" y1="591.7" x2="184.5" y2="591.7" stroke="#77ac30" stroke-width="1"/>
<circle cx="183" cy="586.7" r="1.7" fill="#77ac30" stroke="#77ac30" stroke-width="0.6"/>
<line x1="63.7" y1="588.5" x2="63.7" y2="594.5" stroke="#edb120" stroke-width="1.2"/>
<line x1="62.2" y1="588.5" x2="65.2" y2="588.5" stroke="#edb120" stroke-width="1"/>
<line x1="62.2" y1="594.5" x2="65.2" y2="594.5" stroke="#edb120" stroke-width="1"/>
<circle cx="63.7" cy="591.5" r="1.7" fill="#edb120" stroke="#edb120" stroke-width="0.6"/>
<polyline points="63.7,601.7 83.58,609.1 103.47,612 123.35,612 143.23,608.1 163.12,596.4 183,580.2" fill="none" stroke="#000" stroke-width="2.2" stroke-linejoin="round" stroke-linecap="butt" />
<polyline points="63.7,597.8 83.58,607.1 103.47,610.1 123.35,610 143.23,606.2 163.12,596 183,578.9" fill="none" stroke="#f41414" stroke-width="2.2" stroke-linejoin="round" stroke-linecap="butt" />
<path d="M221.3,540 H223.8 V640.3 H359.6" fill="none" stroke="#222" stroke-width="1.6"/>
<line x1="221.3" y1="590.15" x2="223.8" y2="590.15" stroke="#222" stroke-width="1.6"/>
<line x1="231.7" y1="640.3" x2="231.7" y2="642.8" stroke="#222" stroke-width="1.6"/>
<line x1="271.67" y1="640.3" x2="271.67" y2="642.8" stroke="#222" stroke-width="1.6"/>
<line x1="311.63" y1="640.3" x2="311.63" y2="642.8" stroke="#222" stroke-width="1.6"/>
<line x1="351.6" y1="640.3" x2="351.6" y2="642.8" stroke="#222" stroke-width="1.6"/>
<text x="219" y="543.8" font-size="14" text-anchor="end" font-weight="normal" fill="#000" stroke="#000" stroke-width="0.3" >-60</text>
<text x="219" y="593.95" font-size="14" text-anchor="end" font-weight="normal" fill="#000" stroke="#000" stroke-width="0.3" >-75</text>
<text x="219" y="644.1" font-size="14" text-anchor="end" font-weight="normal" fill="#000" stroke="#000" stroke-width="0.3" >-90</text>
<line x1="231.7" y1="547.3" x2="231.7" y2="573.3" stroke="#ff00ff" stroke-width="1.2"/>
<line x1="230.2" y1="547.3" x2="233.2" y2="547.3" stroke="#ff00ff" stroke-width="1"/>
<line x1="230.2" y1="573.3" x2="233.2" y2="573.3" stroke="#ff00ff" stroke-width="1"/>
<circle cx="231.7" cy="560.3" r="1.7" fill="#ff00ff" stroke="#ff00ff" stroke-width="0.6"/>
<line x1="231.7" y1="581.6" x2="231.7" y2="593.6" stroke="#d95319" stroke-width="1.2"/>
<line x1="230.2" y1="581.6" x2="233.2" y2="581.6" stroke="#d95319" stroke-width="1"/>
<line x1="230.2" y1="593.6" x2="233.2" y2="593.6" stroke="#d95319" stroke-width="1"/>
<circle cx="231.7" cy="587.6" r="1.7" fill="#d95319" stroke="#d95319" stroke-width="0.6"/>
<line x1="231.7" y1="592" x2="231.7" y2="608" stroke="#edb120" stroke-width="1.2"/>
<line x1="230.2" y1="592" x2="233.2" y2="592" stroke="#edb120" stroke-width="1"/>
<line x1="230.2" y1="608" x2="233.2" y2="608" stroke="#edb120" stroke-width="1"/>
<circle cx="231.7" cy="600" r="1.7" fill="#edb120" stroke="#edb120" stroke-width="0.6"/>
<polyline points="231.7,593.1 311.63,591.5" fill="none" stroke="#22ccee" stroke-width="1.15" stroke-linejoin="round" stroke-linecap="butt" stroke-dasharray="2.6,2.2" />
<line x1="231.7" y1="590.1" x2="231.7" y2="596.1" stroke="#22ccee" stroke-width="1.2"/>
<line x1="230.2" y1="590.1" x2="233.2" y2="590.1" stroke="#22ccee" stroke-width="1"/>
<line x1="230.2" y1="596.1" x2="233.2" y2="596.1" stroke="#22ccee" stroke-width="1"/>
<circle cx="231.7" cy="593.1" r="1.7" fill="#22ccee" stroke="#22ccee" stroke-width="0.6"/>
<line x1="311.63" y1="583.5" x2="311.63" y2="599.5" stroke="#22ccee" stroke-width="1.2"/>
<line x1="310.13" y1="583.5" x2="313.13" y2="583.5" stroke="#22ccee" stroke-width="1"/>
<line x1="310.13" y1="599.5" x2="313.13" y2="599.5" stroke="#22ccee" stroke-width="1"/>
<circle cx="311.63" cy="591.5" r="1.7" fill="#22ccee" stroke="#22ccee" stroke-width="0.6"/>
<polyline points="231.7,600.9 271.67,602.3 311.63,602.3 351.6,598.4" fill="none" stroke="#77ac30" stroke-width="1.15" stroke-linejoin="round" stroke-linecap="butt" stroke-dasharray="2.6,2.2" />
<line x1="231.7" y1="598.9" x2="231.7" y2="602.9" stroke="#77ac30" stroke-width="1.2"/>
<line x1="230.2" y1="598.9" x2="233.2" y2="598.9" stroke="#77ac30" stroke-width="1"/>
<line x1="230.2" y1="602.9" x2="233.2" y2="602.9" stroke="#77ac30" stroke-width="1"/>
<circle cx="231.7" cy="600.9" r="1.7" fill="#77ac30" stroke="#77ac30" stroke-width="0.6"/>
<line x1="271.67" y1="598.3" x2="271.67" y2="606.3" stroke="#77ac30" stroke-width="1.2"/>
<line x1="270.17" y1="598.3" x2="273.17" y2="598.3" stroke="#77ac30" stroke-width="1"/>
<line x1="270.17" y1="606.3" x2="273.17" y2="606.3" stroke="#77ac30" stroke-width="1"/>
<circle cx="271.67" cy="602.3" r="1.7" fill="#77ac30" stroke="#77ac30" stroke-width="0.6"/>
<circle cx="311.63" cy="602.3" r="1.7" fill="#77ac30" stroke="#77ac30" stroke-width="0.6"/>
<line x1="351.6" y1="593.4" x2="351.6" y2="603.4" stroke="#77ac30" stroke-width="1.2"/>
<line x1="350.1" y1="593.4" x2="353.1" y2="593.4" stroke="#77ac30" stroke-width="1"/>
<line x1="350.1" y1="603.4" x2="353.1" y2="603.4" stroke="#77ac30" stroke-width="1"/>
<circle cx="351.6" cy="598.4" r="1.7" fill="#77ac30" stroke="#77ac30" stroke-width="0.6"/>
<polyline points="231.7,603.2 271.67,603.2 311.63,602.7" fill="none" stroke="#4a0f28" stroke-width="1.15" stroke-linejoin="round" stroke-linecap="butt" stroke-dasharray="2.6,2.2" />
<line x1="231.7" y1="601.2" x2="231.7" y2="605.2" stroke="#4a0f28" stroke-width="1.2"/>
<line x1="230.2" y1="601.2" x2="233.2" y2="601.2" stroke="#4a0f28" stroke-width="1"/>
<line x1="230.2" y1="605.2" x2="233.2" y2="605.2" stroke="#4a0f28" stroke-width="1"/>
<circle cx="231.7" cy="603.2" r="1.7" fill="#4a0f28" stroke="#4a0f28" stroke-width="0.6"/>
<circle cx="271.67" cy="603.2" r="1.7" fill="#4a0f28" stroke="#4a0f28" stroke-width="0.6"/>
<line x1="311.63" y1="572.7" x2="311.63" y2="632.7" stroke="#4a0f28" stroke-width="1.2"/>
<line x1="310.13" y1="572.7" x2="313.13" y2="572.7" stroke="#4a0f28" stroke-width="1"/>
<line x1="310.13" y1="632.7" x2="313.13" y2="632.7" stroke="#4a0f28" stroke-width="1"/>
<circle cx="311.63" cy="602.7" r="1.7" fill="#4a0f28" stroke="#4a0f28" stroke-width="0.6"/>
<polyline points="231.7,614.9 251.68,618.5 271.67,620.8 291.65,622.3 311.63,620.8 331.62,620 351.6,619.8" fill="none" stroke="#000" stroke-width="2.2" stroke-linejoin="round" stroke-linecap="butt" />
<polyline points="231.7,614.9 251.68,618.5 271.67,620.8 291.65,622.3 311.63,620.8 331.62,618.8 351.6,615.3" fill="none" stroke="#f41414" stroke-width="2.2" stroke-linejoin="round" stroke-linecap="butt" />
<path d="M416.2,540.5 H418.7 V638.8 H552" fill="none" stroke="#222" stroke-width="1.6"/>
<line x1="416.2" y1="589.65" x2="418.7" y2="589.65" stroke="#222" stroke-width="1.6"/>
<line x1="427.1" y1="638.8" x2="427.1" y2="641.3" stroke="#222" stroke-width="1.6"/>
<line x1="465.97" y1="638.8" x2="465.97" y2="641.3" stroke="#222" stroke-width="1.6"/>
<line x1="504.83" y1="638.8" x2="504.83" y2="641.3" stroke="#222" stroke-width="1.6"/>
<line x1="543.7" y1="638.8" x2="543.7" y2="641.3" stroke="#222" stroke-width="1.6"/>
<text x="413.9" y="544.3" font-size="14" text-anchor="end" font-weight="normal" fill="#000" stroke="#000" stroke-width="0.3" >350</text>
<text x="413.9" y="593.45" font-size="14" text-anchor="end" font-weight="normal" fill="#000" stroke="#000" stroke-width="0.3" >175</text>
<text x="413.9" y="642.6" font-size="14" text-anchor="end" font-weight="normal" fill="#000" stroke="#000" stroke-width="0.3" >0</text>
<text transform="translate(377.8,588.7) rotate(-90)" font-size="16" text-anchor="middle" stroke="#000" stroke-width="0.3" >V<tspan font-size="10" dy="3">max</tspan><tspan dy="-3"> (mV/ms)</tspan></text>
<polyline points="427.1,573 504.83,591.5" fill="none" stroke="#22ccee" stroke-width="1.15" stroke-linejoin="round" stroke-linecap="butt" stroke-dasharray="2.6,2.2" />
<line x1="427.1" y1="565" x2="427.1" y2="581" stroke="#22ccee" stroke-width="1.2"/>
<line x1="425.6" y1="565" x2="428.6" y2="565" stroke="#22ccee" stroke-width="1"/>
<line x1="425.6" y1="581" x2="428.6" y2="581" stroke="#22ccee" stroke-width="1"/>
<circle cx="427.1" cy="573" r="1.7" fill="#22ccee" stroke="#22ccee" stroke-width="0.6"/>
<line x1="504.83" y1="584.5" x2="504.83" y2="598.5" stroke="#22ccee" stroke-width="1.2"/>
<line x1="503.33" y1="584.5" x2="506.33" y2="584.5" stroke="#22ccee" stroke-width="1"/>
<line x1="503.33" y1="598.5" x2="506.33" y2="598.5" stroke="#22ccee" stroke-width="1"/>
<circle cx="504.83" cy="591.5" r="1.7" fill="#22ccee" stroke="#22ccee" stroke-width="0.6"/>
<polyline points="427.1,572 465.97,575.6 504.83,580.8 543.7,585.3" fill="none" stroke="#77ac30" stroke-width="1.15" stroke-linejoin="round" stroke-linecap="butt" stroke-dasharray="2.6,2.2" />
<circle cx="427.1" cy="572" r="1.7" fill="#77ac30" stroke="#77ac30" stroke-width="0.6"/>
<line x1="465.97" y1="572.6" x2="465.97" y2="578.6" stroke="#77ac30" stroke-width="1.2"/>
<line x1="464.47" y1="572.6" x2="467.47" y2="572.6" stroke="#77ac30" stroke-width="1"/>
<line x1="464.47" y1="578.6" x2="467.47" y2="578.6" stroke="#77ac30" stroke-width="1"/>
<circle cx="465.97" cy="575.6" r="1.7" fill="#77ac30" stroke="#77ac30" stroke-width="0.6"/>
<circle cx="504.83" cy="580.8" r="1.7" fill="#77ac30" stroke="#77ac30" stroke-width="0.6"/>
<line x1="543.7" y1="580.3" x2="543.7" y2="590.3" stroke="#77ac30" stroke-width="1.2"/>
<line x1="542.2" y1="580.3" x2="545.2" y2="580.3" stroke="#77ac30" stroke-width="1"/>
<line x1="542.2" y1="590.3" x2="545.2" y2="590.3" stroke="#77ac30" stroke-width="1"/>
<circle cx="543.7" cy="585.3" r="1.7" fill="#77ac30" stroke="#77ac30" stroke-width="0.6"/>
<polyline points="427.1,573 504.83,580.8" fill="none" stroke="#4a0f28" stroke-width="1.15" stroke-linejoin="round" stroke-linecap="butt" stroke-dasharray="2.6,2.2" />
<circle cx="427.1" cy="573" r="1.7" fill="#4a0f28" stroke="#4a0f28" stroke-width="0.6"/>
<line x1="504.83" y1="576.8" x2="504.83" y2="584.8" stroke="#4a0f28" stroke-width="1.2"/>
<line x1="503.33" y1="576.8" x2="506.33" y2="576.8" stroke="#4a0f28" stroke-width="1"/>
<line x1="503.33" y1="584.8" x2="506.33" y2="584.8" stroke="#4a0f28" stroke-width="1"/>
<circle cx="504.83" cy="580.8" r="1.7" fill="#4a0f28" stroke="#4a0f28" stroke-width="0.6"/>
<polyline points="427.1,572 465.97,576.9 485.4,582.2 504.83,590.6 524.27,612 543.7,629" fill="none" stroke="#000" stroke-width="2.2" stroke-linejoin="round" stroke-linecap="butt" />
<polyline points="427.1,580.8 465.97,586.1 485.4,590 504.83,597.4 524.27,613 543.7,630.9" fill="none" stroke="#f41414" stroke-width="2.2" stroke-linejoin="round" stroke-linecap="butt" />
<path d="M579.8,538.5 H582.3 V638.5 H715.5" fill="none" stroke="#222" stroke-width="1.6"/>
<line x1="579.8" y1="588.5" x2="582.3" y2="588.5" stroke="#222" stroke-width="1.6"/>
<line x1="590.1" y1="638.5" x2="590.1" y2="641" stroke="#222" stroke-width="1.6"/>
<line x1="629.1" y1="638.5" x2="629.1" y2="641" stroke="#222" stroke-width="1.6"/>
<line x1="668.1" y1="638.5" x2="668.1" y2="641" stroke="#222" stroke-width="1.6"/>
<line x1="707.1" y1="638.5" x2="707.1" y2="641" stroke="#222" stroke-width="1.6"/>
<text x="577.5" y="542.3" font-size="14" text-anchor="end" font-weight="normal" fill="#000" stroke="#000" stroke-width="0.3" >350</text>
<text x="577.5" y="592.3" font-size="14" text-anchor="end" font-weight="normal" fill="#000" stroke="#000" stroke-width="0.3" >175</text>
<text x="577.5" y="642.3" font-size="14" text-anchor="end" font-weight="normal" fill="#000" stroke="#000" stroke-width="0.3" >0</text>
<polyline points="590.1,552.9 629.1,554.5 668.1,562.3 707.1,569.7" fill="none" stroke="#77ac30" stroke-width="1.15" stroke-linejoin="round" stroke-linecap="butt" stroke-dasharray="2.6,2.2" />
<line x1="590.1" y1="543.9" x2="590.1" y2="561.9" stroke="#77ac30" stroke-width="1.2"/>
<line x1="588.6" y1="543.9" x2="591.6" y2="543.9" stroke="#77ac30" stroke-width="1"/>
<line x1="588.6" y1="561.9" x2="591.6" y2="561.9" stroke="#77ac30" stroke-width="1"/>
<circle cx="590.1" cy="552.9" r="1.7" fill="#77ac30" stroke="#77ac30" stroke-width="0.6"/>
<line x1="629.1" y1="545.5" x2="629.1" y2="563.5" stroke="#77ac30" stroke-width="1.2"/>
<line x1="627.6" y1="545.5" x2="630.6" y2="545.5" stroke="#77ac30" stroke-width="1"/>
<line x1="627.6" y1="563.5" x2="630.6" y2="563.5" stroke="#77ac30" stroke-width="1"/>
<circle cx="629.1" cy="554.5" r="1.7" fill="#77ac30" stroke="#77ac30" stroke-width="0.6"/>
<line x1="668.1" y1="552.3" x2="668.1" y2="572.3" stroke="#77ac30" stroke-width="1.2"/>
<line x1="666.6" y1="552.3" x2="669.6" y2="552.3" stroke="#77ac30" stroke-width="1"/>
<line x1="666.6" y1="572.3" x2="669.6" y2="572.3" stroke="#77ac30" stroke-width="1"/>
<circle cx="668.1" cy="562.3" r="1.7" fill="#77ac30" stroke="#77ac30" stroke-width="0.6"/>
<line x1="707.1" y1="559.7" x2="707.1" y2="579.7" stroke="#77ac30" stroke-width="1.2"/>
<line x1="705.6" y1="559.7" x2="708.6" y2="559.7" stroke="#77ac30" stroke-width="1"/>
<line x1="705.6" y1="579.7" x2="708.6" y2="579.7" stroke="#77ac30" stroke-width="1"/>
<circle cx="707.1" cy="569.7" r="1.7" fill="#77ac30" stroke="#77ac30" stroke-width="0.6"/>
<polyline points="590.1,563.9 668.1,569.7" fill="none" stroke="#22ccee" stroke-width="1.15" stroke-linejoin="round" stroke-linecap="butt" stroke-dasharray="2.6,2.2" />
<line x1="590.1" y1="555.9" x2="590.1" y2="571.9" stroke="#22ccee" stroke-width="1.2"/>
<line x1="588.6" y1="555.9" x2="591.6" y2="555.9" stroke="#22ccee" stroke-width="1"/>
<line x1="588.6" y1="571.9" x2="591.6" y2="571.9" stroke="#22ccee" stroke-width="1"/>
<circle cx="590.1" cy="563.9" r="1.7" fill="#22ccee" stroke="#22ccee" stroke-width="0.6"/>
<line x1="668.1" y1="561.7" x2="668.1" y2="577.7" stroke="#22ccee" stroke-width="1.2"/>
<line x1="666.6" y1="561.7" x2="669.6" y2="561.7" stroke="#22ccee" stroke-width="1"/>
<line x1="666.6" y1="577.7" x2="669.6" y2="577.7" stroke="#22ccee" stroke-width="1"/>
<circle cx="668.1" cy="569.7" r="1.7" fill="#22ccee" stroke="#22ccee" stroke-width="0.6"/>
<polyline points="590.1,565.8 668.1,569.7" fill="none" stroke="#4a0f28" stroke-width="1.15" stroke-linejoin="round" stroke-linecap="butt" stroke-dasharray="2.6,2.2" />
<circle cx="590.1" cy="565.8" r="1.7" fill="#4a0f28" stroke="#4a0f28" stroke-width="0.6"/>
<circle cx="668.1" cy="569.7" r="1.7" fill="#4a0f28" stroke="#4a0f28" stroke-width="0.6"/>
<polyline points="590.1,570.1 629.1,578.3 668.1,582.8 687.6,584.7 707.1,584.7" fill="none" stroke="#000" stroke-width="2.2" stroke-linejoin="round" stroke-linecap="butt" />
<polyline points="668.1,582.8 687.6,587.3 707.1,599.7" fill="none" stroke="#000" stroke-width="2.2" stroke-linejoin="round" stroke-linecap="butt" />
<polyline points="590.1,577.9 629.1,585.3 668.1,590.6 687.6,593.1 707.1,594.5" fill="none" stroke="#f41414" stroke-width="2.2" stroke-linejoin="round" stroke-linecap="butt" />
<polyline points="687.6,593.1 707.1,599.3" fill="none" stroke="#f41414" stroke-width="2.2" stroke-linejoin="round" stroke-linecap="butt" />
<path d="M53,688 H55.5 V790.6 H190.4" fill="none" stroke="#222" stroke-width="1.6"/>
<line x1="53" y1="739.3" x2="55.5" y2="739.3" stroke="#222" stroke-width="1.6"/>
<line x1="63.7" y1="790.6" x2="63.7" y2="793.1" stroke="#222" stroke-width="1.6"/>
<line x1="103.07" y1="790.6" x2="103.07" y2="793.1" stroke="#222" stroke-width="1.6"/>
<line x1="142.43" y1="790.6" x2="142.43" y2="793.1" stroke="#222" stroke-width="1.6"/>
<line x1="181.8" y1="790.6" x2="181.8" y2="793.1" stroke="#222" stroke-width="1.6"/>
<text x="50.7" y="691.8" font-size="14" text-anchor="end" font-weight="normal" fill="#000" stroke="#000" stroke-width="0.3" >10</text>
<text x="50.7" y="743.1" font-size="14" text-anchor="end" font-weight="normal" fill="#000" stroke="#000" stroke-width="0.3" >-7.5</text>
<text x="50.7" y="794.4" font-size="14" text-anchor="end" font-weight="normal" fill="#000" stroke="#000" stroke-width="0.3" >-25</text>
<text transform="translate(14,739.5) rotate(-90)" font-size="15.5" text-anchor="middle" stroke="#000" stroke-width="0.3" >V<tspan font-size="10" dy="3">PLT</tspan><tspan dy="-3"> (mV)</tspan></text>
<polyline points="63.7,750.3 83.38,754.7 103.07,757.5 122.75,759.4 142.43,759.4 162.12,765.9 181.8,774.6" fill="none" stroke="#000" stroke-width="2.2" stroke-linejoin="round" stroke-linecap="butt" />
<polyline points="162.12,765.9 181.8,783.4" fill="none" stroke="#000" stroke-width="2.2" stroke-linejoin="round" stroke-linecap="butt" />
<polyline points="63.7,740.5 83.38,744.4 103.07,747 122.75,748.9 142.43,750.8 162.12,754.7 181.8,762" fill="none" stroke="#f41414" stroke-width="2.2" stroke-linejoin="round" stroke-linecap="butt" />
<path d="M221.6,688 H224.1 V790.6 H358.7" fill="none" stroke="#222" stroke-width="1.6"/>
<line x1="221.6" y1="739.3" x2="224.1" y2="739.3" stroke="#222" stroke-width="1.6"/>
<line x1="231.7" y1="790.6" x2="231.7" y2="793.1" stroke="#222" stroke-width="1.6"/>
<line x1="271.3" y1="790.6" x2="271.3" y2="793.1" stroke="#222" stroke-width="1.6"/>
<line x1="310.9" y1="790.6" x2="310.9" y2="793.1" stroke="#222" stroke-width="1.6"/>
<line x1="350.5" y1="790.6" x2="350.5" y2="793.1" stroke="#222" stroke-width="1.6"/>
<text x="219.3" y="691.8" font-size="14" text-anchor="end" font-weight="normal" fill="#000" stroke="#000" stroke-width="0.3" >10</text>
<text x="219.3" y="743.1" font-size="14" text-anchor="end" font-weight="normal" fill="#000" stroke="#000" stroke-width="0.3" >-7.5</text>
<text x="219.3" y="794.4" font-size="14" text-anchor="end" font-weight="normal" fill="#000" stroke="#000" stroke-width="0.3" >-25</text>
<polyline points="231.7,735.3 271.3,741.1 291.1,744.4 310.9,750.3 330.7,752.2 350.5,753.6" fill="none" stroke="#000" stroke-width="2.2" stroke-linejoin="round" stroke-linecap="butt" />
<polyline points="291.1,743 310.9,742.5 330.7,741.1 350.5,743.8" fill="none" stroke="#000" stroke-width="2.2" stroke-linejoin="round" stroke-linecap="butt" />
<polyline points="231.7,734.7 271.3,737.6 291.1,739.5 310.9,742.5 330.7,745.8 350.5,751.6" fill="none" stroke="#f41414" stroke-width="2.2" stroke-linejoin="round" stroke-linecap="butt" />
<polyline points="310.9,742.5 330.7,745 350.5,746.4" fill="none" stroke="#f41414" stroke-width="2.2" stroke-linejoin="round" stroke-linecap="butt" />
<path d="M416.2,688 H418.7 V789.8 H552" fill="none" stroke="#222" stroke-width="1.6"/>
<line x1="416.2" y1="738.9" x2="418.7" y2="738.9" stroke="#222" stroke-width="1.6"/>
<line x1="427.1" y1="789.8" x2="427.1" y2="792.3" stroke="#222" stroke-width="1.6"/>
<line x1="465.9" y1="789.8" x2="465.9" y2="792.3" stroke="#222" stroke-width="1.6"/>
<line x1="504.7" y1="789.8" x2="504.7" y2="792.3" stroke="#222" stroke-width="1.6"/>
<line x1="543.5" y1="789.8" x2="543.5" y2="792.3" stroke="#222" stroke-width="1.6"/>
<text x="413.9" y="691.8" font-size="14" text-anchor="end" font-weight="normal" fill="#000" stroke="#000" stroke-width="0.3" >220</text>
<text x="413.9" y="742.7" font-size="14" text-anchor="end" font-weight="normal" fill="#000" stroke="#000" stroke-width="0.3" >155</text>
<text x="413.9" y="793.6" font-size="14" text-anchor="end" font-weight="normal" fill="#000" stroke="#000" stroke-width="0.3" >90</text>
<text transform="translate(378,739) rotate(-90)" font-size="15.8" text-anchor="middle" stroke="#000" stroke-width="0.3" >CaT<tspan font-size="10" dy="3">Decay63</tspan><tspan dy="-3"> (ms)</tspan></text>
<polyline points="427.1,693.7 446.5,718.1 465.9,736 485.3,750.3 504.7,761 524.1,770.3 543.5,769.2" fill="none" stroke="#000" stroke-width="2.2" stroke-linejoin="round" stroke-linecap="butt" />
<polyline points="427.1,696.6 446.5,720.4 465.9,740 485.3,753.2 504.7,763.9 524.1,771.7 543.5,781.5" fill="none" stroke="#f41414" stroke-width="2.2" stroke-linejoin="round" stroke-linecap="butt" />
<path d="M579.8,688 H582.3 V790.5 H714.2" fill="none" stroke="#222" stroke-width="1.6"/>
<line x1="579.8" y1="739.25" x2="582.3" y2="739.25" stroke="#222" stroke-width="1.6"/>
<line x1="590.1" y1="790.5" x2="590.1" y2="793" stroke="#222" stroke-width="1.6"/>
<line x1="629.07" y1="790.5" x2="629.07" y2="793" stroke="#222" stroke-width="1.6"/>
<line x1="668.03" y1="790.5" x2="668.03" y2="793" stroke="#222" stroke-width="1.6"/>
<line x1="707" y1="790.5" x2="707" y2="793" stroke="#222" stroke-width="1.6"/>
<text x="577.5" y="691.8" font-size="14" text-anchor="end" font-weight="normal" fill="#000" stroke="#000" stroke-width="0.3" >220</text>
<text x="577.5" y="743.05" font-size="14" text-anchor="end" font-weight="normal" fill="#000" stroke="#000" stroke-width="0.3" >155</text>
<text x="577.5" y="794.3" font-size="14" text-anchor="end" font-weight="normal" fill="#000" stroke="#000" stroke-width="0.3" >90</text>
<polyline points="590.1,705.4 609.58,729.8 629.07,748.3 648.55,759.4 668.03,762 687.52,764.9 707,741.1" fill="none" stroke="#000" stroke-width="2.2" stroke-linejoin="round" stroke-linecap="butt" />
<polyline points="648.55,759.4 668.03,777 687.52,782.4 707,784" fill="none" stroke="#000" stroke-width="2.2" stroke-linejoin="round" stroke-linecap="butt" />
<polyline points="590.1,695.7 609.58,725.9 629.07,747 648.55,760 668.03,771.7 687.52,777.6 707,774.6" fill="none" stroke="#f41414" stroke-width="2.2" stroke-linejoin="round" stroke-linecap="butt" />
<polyline points="687.52,779.5 707,782.4" fill="none" stroke="#f41414" stroke-width="2.2" stroke-linejoin="round" stroke-linecap="butt" />
<path d="M52.8,836 H55.3 V938.7 H194.8" fill="none" stroke="#222" stroke-width="1.6"/>
<line x1="52.8" y1="887.35" x2="55.3" y2="887.35" stroke="#222" stroke-width="1.6"/>
<line x1="64" y1="938.7" x2="64" y2="941.2" stroke="#222" stroke-width="1.6"/>
<line x1="104.83" y1="938.7" x2="104.83" y2="941.2" stroke="#222" stroke-width="1.6"/>
<line x1="145.67" y1="938.7" x2="145.67" y2="941.2" stroke="#222" stroke-width="1.6"/>
<line x1="186.5" y1="938.7" x2="186.5" y2="941.2" stroke="#222" stroke-width="1.6"/>
<text x="50.5" y="839.8" font-size="14" text-anchor="end" font-weight="normal" fill="#000" stroke="#000" stroke-width="0.3" >130</text>
<text x="50.5" y="891.15" font-size="14" text-anchor="end" font-weight="normal" fill="#000" stroke="#000" stroke-width="0.3" >100</text>
<text x="50.5" y="942.5" font-size="14" text-anchor="end" font-weight="normal" fill="#000" stroke="#000" stroke-width="0.3" >70</text>
<text transform="translate(14,887.3) rotate(-90)" font-size="15.5" text-anchor="middle" stroke="#000" stroke-width="0.3" >APA (mV)</text>
<polyline points="64,861.9 84.42,860.8 104.83,861.6 125.25,864.5 145.67,870.8 166.08,890.2 186.5,921.3" fill="none" stroke="#000" stroke-width="2.2" stroke-linejoin="round" stroke-linecap="butt" />
<polyline points="166.08,890.2 186.5,933.6" fill="none" stroke="#000" stroke-width="2.2" stroke-linejoin="round" stroke-linecap="butt" />
<polyline points="64,863.4 84.42,861.2 104.83,861.9 125.25,864.5 145.67,871.7 166.08,890.2 186.5,926.5" fill="none" stroke="#f41414" stroke-width="2.2" stroke-linejoin="round" stroke-linecap="butt" />
<path d="M221.3,836.3 H223.8 V938.7 H365" fill="none" stroke="#222" stroke-width="1.6"/>
<line x1="221.3" y1="887.5" x2="223.8" y2="887.5" stroke="#222" stroke-width="1.6"/>
<line x1="232.3" y1="938.7" x2="232.3" y2="941.2" stroke="#222" stroke-width="1.6"/>
<line x1="273.27" y1="938.7" x2="273.27" y2="941.2" stroke="#222" stroke-width="1.6"/>
<line x1="314.23" y1="938.7" x2="314.23" y2="941.2" stroke="#222" stroke-width="1.6"/>
<line x1="355.2" y1="938.7" x2="355.2" y2="941.2" stroke="#222" stroke-width="1.6"/>
<text x="219" y="840.1" font-size="14" text-anchor="end" font-weight="normal" fill="#000" stroke="#000" stroke-width="0.3" >130</text>
<text x="219" y="891.3" font-size="14" text-anchor="end" font-weight="normal" fill="#000" stroke="#000" stroke-width="0.3" >100</text>
<text x="219" y="942.5" font-size="14" text-anchor="end" font-weight="normal" fill="#000" stroke="#000" stroke-width="0.3" >70</text>
<polyline points="232.3,843.6 273.27,848.4 314.23,853.4 334.72,857.2 355.2,857.2" fill="none" stroke="#000" stroke-width="2.2" stroke-linejoin="round" stroke-linecap="butt" />
<polyline points="326.52,855 334.72,859.2 355.2,867.2" fill="none" stroke="#000" stroke-width="2.2" stroke-linejoin="round" stroke-linecap="butt" />
<polyline points="232.3,847.1 273.27,852.6 314.23,858.2 334.72,862.4 355.2,867.6" fill="none" stroke="#f41414" stroke-width="2.2" stroke-linejoin="round" stroke-linecap="butt" />
<polyline points="334.72,862.4 355.2,870.7" fill="none" stroke="#f41414" stroke-width="2.2" stroke-linejoin="round" stroke-linecap="butt" />
<path d="M416.1,836.2 H418.6 V937.3 H551" fill="none" stroke="#222" stroke-width="1.6"/>
<line x1="416.1" y1="886.75" x2="418.6" y2="886.75" stroke="#222" stroke-width="1.6"/>
<line x1="426.9" y1="937.3" x2="426.9" y2="939.8" stroke="#222" stroke-width="1.6"/>
<line x1="465.47" y1="937.3" x2="465.47" y2="939.8" stroke="#222" stroke-width="1.6"/>
<line x1="504.03" y1="937.3" x2="504.03" y2="939.8" stroke="#222" stroke-width="1.6"/>
<line x1="542.6" y1="937.3" x2="542.6" y2="939.8" stroke="#222" stroke-width="1.6"/>
<text x="413.8" y="840" font-size="14" text-anchor="end" font-weight="normal" fill="#000" stroke="#000" stroke-width="0.3" >1500</text>
<text x="413.8" y="890.55" font-size="14" text-anchor="end" font-weight="normal" fill="#000" stroke="#000" stroke-width="0.3" >795</text>
<text x="413.8" y="941.1" font-size="14" text-anchor="end" font-weight="normal" fill="#000" stroke="#000" stroke-width="0.3" >90</text>
<text transform="translate(378,886.5) rotate(-90)" font-size="15.8" text-anchor="middle" stroke="#000" stroke-width="0.3" >CaT<tspan font-size="10" dy="3">Amp</tspan><tspan dy="-3"> (nM)</tspan></text>
<polyline points="426.9,924.5 446.18,919.8 465.47,917 484.75,916.2 504.03,919 523.32,927.3 542.6,937" fill="none" stroke="#000" stroke-width="2" stroke-linejoin="round" stroke-linecap="butt" />
<polyline points="426.9,923.7 446.18,918.1 465.47,914.2 484.75,912.5 504.03,915.3 523.32,923.7 542.6,932" fill="none" stroke="#f41414" stroke-width="2" stroke-linejoin="round" stroke-linecap="butt" />
<path d="M579.7,836 H582.2 V938.8 H714.2" fill="none" stroke="#222" stroke-width="1.6"/>
<line x1="579.7" y1="887.4" x2="582.2" y2="887.4" stroke="#222" stroke-width="1.6"/>
<line x1="590.3" y1="938.8" x2="590.3" y2="941.3" stroke="#222" stroke-width="1.6"/>
<line x1="628.97" y1="938.8" x2="628.97" y2="941.3" stroke="#222" stroke-width="1.6"/>
<line x1="667.63" y1="938.8" x2="667.63" y2="941.3" stroke="#222" stroke-width="1.6"/>
<line x1="706.3" y1="938.8" x2="706.3" y2="941.3" stroke="#222" stroke-width="1.6"/>
<text x="577.4" y="839.8" font-size="14" text-anchor="end" font-weight="normal" fill="#000" stroke="#000" stroke-width="0.3" >1500</text>
<text x="577.4" y="891.2" font-size="14" text-anchor="end" font-weight="normal" fill="#000" stroke="#000" stroke-width="0.3" >795</text>
<text x="577.4" y="942.6" font-size="14" text-anchor="end" font-weight="normal" fill="#000" stroke="#000" stroke-width="0.3" >90</text>
<polyline points="590.3,933.3 628.97,926.1 648.3,921.2 667.63,895.9 686.97,862.9 706.3,839.8" fill="none" stroke="#000" stroke-width="2" stroke-linejoin="round" stroke-linecap="butt" />
<polyline points="628.97,926.1 648.3,929.6 667.63,935.5 686.97,936.6 706.3,934" fill="none" stroke="#000" stroke-width="2" stroke-linejoin="round" stroke-linecap="butt" />
<polyline points="590.3,930.5 628.97,923 648.3,921.2 667.63,924.5 686.97,914.6 706.3,888.2" fill="none" stroke="#f41414" stroke-width="2" stroke-linejoin="round" stroke-linecap="butt" />
<polyline points="667.63,924.5 686.97,934 706.3,936.2" fill="none" stroke="#f41414" stroke-width="2" stroke-linejoin="round" stroke-linecap="butt" />
<text x="63.6" y="958.4" font-size="14" text-anchor="middle" font-weight="normal" fill="#000" stroke="#000" stroke-width="0.3" >1</text>
<text x="104.5" y="958.4" font-size="14" text-anchor="middle" font-weight="normal" fill="#000" stroke="#000" stroke-width="0.3" >2</text>
<text x="145.4" y="958.4" font-size="14" text-anchor="middle" font-weight="normal" fill="#000" stroke="#000" stroke-width="0.3" >3</text>
<text x="186.3" y="958.4" font-size="14" text-anchor="middle" font-weight="normal" fill="#000" stroke="#000" stroke-width="0.3" >4</text>
<text x="129.6" y="980.7" font-size="15.4" text-anchor="middle" font-weight="normal" fill="#000" stroke="#000" stroke-width="0.3" >Frequency (Hz)</text>
<text x="233" y="958.4" font-size="14" text-anchor="middle" font-weight="normal" fill="#000" stroke="#000" stroke-width="0.3" >1</text>
<text x="273.1" y="958.4" font-size="14" text-anchor="middle" font-weight="normal" fill="#000" stroke="#000" stroke-width="0.3" >2</text>
<text x="313.2" y="958.4" font-size="14" text-anchor="middle" font-weight="normal" fill="#000" stroke="#000" stroke-width="0.3" >3</text>
<text x="353.3" y="958.4" font-size="14" text-anchor="middle" font-weight="normal" fill="#000" stroke="#000" stroke-width="0.3" >4</text>
<text x="295.4" y="980.7" font-size="15.4" text-anchor="middle" font-weight="normal" fill="#000" stroke="#000" stroke-width="0.3" >Frequency (Hz)</text>
<text x="428" y="958.4" font-size="14" text-anchor="middle" font-weight="normal" fill="#000" stroke="#000" stroke-width="0.3" >1</text>
<text x="466.5" y="958.4" font-size="14" text-anchor="middle" font-weight="normal" fill="#000" stroke="#000" stroke-width="0.3" >2</text>
<text x="505" y="958.4" font-size="14" text-anchor="middle" font-weight="normal" fill="#000" stroke="#000" stroke-width="0.3" >3</text>
<text x="543.5" y="958.4" font-size="14" text-anchor="middle" font-weight="normal" fill="#000" stroke="#000" stroke-width="0.3" >4</text>
<text x="488.5" y="980.7" font-size="15.4" text-anchor="middle" font-weight="normal" fill="#000" stroke="#000" stroke-width="0.3" >Frequency (Hz)</text>
<text x="589.9" y="958.4" font-size="14" text-anchor="middle" font-weight="normal" fill="#000" stroke="#000" stroke-width="0.3" >1</text>
<text x="628.7" y="958.4" font-size="14" text-anchor="middle" font-weight="normal" fill="#000" stroke="#000" stroke-width="0.3" >2</text>
<text x="667.5" y="958.4" font-size="14" text-anchor="middle" font-weight="normal" fill="#000" stroke="#000" stroke-width="0.3" >3</text>
<text x="706.3" y="958.4" font-size="14" text-anchor="middle" font-weight="normal" fill="#000" stroke="#000" stroke-width="0.3" >4</text>
<text x="650" y="980.7" font-size="15.4" text-anchor="middle" font-weight="normal" fill="#000" stroke="#000" stroke-width="0.3" >Frequency (Hz)</text>
<line x1="30" y1="1006.3" x2="58.9" y2="1006.3" stroke="#000" stroke-width="1.6"/>
<text x="63.1" y="1010.8" font-size="13.5" text-anchor="start" font-weight="normal" fill="#000" stroke="#000" stroke-width="0.3" >Model Male</text>
<line x1="30" y1="1022.9" x2="58.9" y2="1022.9" stroke="#f41414" stroke-width="1.6"/>
<text x="63.1" y="1027.4" font-size="13.5" text-anchor="start" font-weight="normal" fill="#000" stroke="#000" stroke-width="0.3" >Model Female</text>
<line x1="30" y1="1039.5" x2="35.5" y2="1039.5" stroke="#a2142f" stroke-width="1.6"/>
<line x1="53.5" y1="1039.5" x2="59" y2="1039.5" stroke="#a2142f" stroke-width="1.6"/>
<circle cx="44.5" cy="1039.5" r="3.4" fill="#a2142f"/>
<path d="M43.1,1038.4 h2.8 M43.1,1040.6 h2.8" stroke="#fff" stroke-width="0.8" opacity="0.6"/>
<text x="63.1" y="1044" font-size="13.5" text-anchor="start" font-weight="normal" fill="#000" stroke="#000" stroke-width="0.3" >Neef et al. 2010</text>
<line x1="166.5" y1="1006.3" x2="172" y2="1006.3" stroke="#edb120" stroke-width="1.6"/>
<line x1="190" y1="1006.3" x2="195.5" y2="1006.3" stroke="#edb120" stroke-width="1.6"/>
<circle cx="181" cy="1006.3" r="3.4" fill="#edb120"/>
<path d="M179.6,1005.2 h2.8 M179.6,1007.4 h2.8" stroke="#fff" stroke-width="0.8" opacity="0.6"/>
<text x="201" y="1010.8" font-size="13.5" text-anchor="start" font-weight="normal" fill="#000" stroke="#000" stroke-width="0.3" >Bosch et al. 1999</text>
<line x1="166.5" y1="1022.9" x2="172" y2="1022.9" stroke="#ff00ff" stroke-width="1.6"/>
<line x1="190" y1="1022.9" x2="195.5" y2="1022.9" stroke="#ff00ff" stroke-width="1.6"/>
<circle cx="181" cy="1022.9" r="3.4" fill="#ff00ff"/>
<path d="M179.6,1021.8 h2.8 M179.6,1024 h2.8" stroke="#fff" stroke-width="0.8" opacity="0.6"/>
<text x="201" y="1027.4" font-size="13.5" text-anchor="start" font-weight="normal" fill="#000" stroke="#000" stroke-width="0.3" >Dobrev et al. 2001</text>
<line x1="166.5" y1="1039.5" x2="172" y2="1039.5" stroke="#3a8ff0" stroke-width="1.6"/>
<line x1="190" y1="1039.5" x2="195.5" y2="1039.5" stroke="#3a8ff0" stroke-width="1.6"/>
<circle cx="181" cy="1039.5" r="2.4" fill="#3a8ff0"/>
<text x="201" y="1044" font-size="13.5" text-anchor="start" font-weight="normal" fill="#000" stroke="#000" stroke-width="0.3" >Franz et al. 1997</text>
<line x1="317.8" y1="1006.3" x2="323.3" y2="1006.3" stroke="#77ac30" stroke-width="1.6"/>
<line x1="341.3" y1="1006.3" x2="346.8" y2="1006.3" stroke="#77ac30" stroke-width="1.6"/>
<circle cx="332.3" cy="1006.3" r="3.4" fill="#77ac30"/>
<path d="M330.9,1005.2 h2.8 M330.9,1007.4 h2.8" stroke="#fff" stroke-width="0.8" opacity="0.6"/>
<text x="351.9" y="1010.8" font-size="13.5" text-anchor="start" font-weight="normal" fill="#000" stroke="#000" stroke-width="0.3" >Ford et al. 2016</text>
<line x1="317.8" y1="1022.9" x2="323.3" y2="1022.9" stroke="#22ccee" stroke-width="1.6"/>
<line x1="341.3" y1="1022.9" x2="346.8" y2="1022.9" stroke="#22ccee" stroke-width="1.6"/>
<circle cx="332.3" cy="1022.9" r="3.4" fill="#22ccee"/>
<path d="M330.9,1021.8 h2.8 M330.9,1024 h2.8" stroke="#fff" stroke-width="0.8" opacity="0.6"/>
<text x="351.9" y="1027.4" font-size="13.5" text-anchor="start" font-weight="normal" fill="#000" stroke="#000" stroke-width="0.3" >Wettwer et al. 2013</text>
<line x1="317.8" y1="1039.5" x2="323.3" y2="1039.5" stroke="#4a0f28" stroke-width="1.6"/>
<line x1="341.3" y1="1039.5" x2="346.8" y2="1039.5" stroke="#4a0f28" stroke-width="1.6"/>
<circle cx="332.3" cy="1039.5" r="3.4" fill="#4a0f28"/>
<path d="M330.9,1038.4 h2.8 M330.9,1040.6 h2.8" stroke="#fff" stroke-width="0.8" opacity="0.6"/>
<text x="351.9" y="1044" font-size="13.5" text-anchor="start" font-weight="normal" fill="#000" stroke="#000" stroke-width="0.3" >Skibsbye et al. 2014</text>
<line x1="478.4" y1="1006.3" x2="483.9" y2="1006.3" stroke="#7e2f8e" stroke-width="1.6"/>
<line x1="501.9" y1="1006.3" x2="507.4" y2="1006.3" stroke="#7e2f8e" stroke-width="1.6"/>
<circle cx="492.9" cy="1006.3" r="3.4" fill="#7e2f8e"/>
<path d="M491.5,1005.2 h2.8 M491.5,1007.4 h2.8" stroke="#fff" stroke-width="0.8" opacity="0.6"/>
<text x="514.3" y="1010.8" font-size="13.5" text-anchor="start" font-weight="normal" fill="#000" stroke="#000" stroke-width="0.3" >Van Wagoner et al. 1999</text>
<line x1="478.4" y1="1022.9" x2="483.9" y2="1022.9" stroke="#d95319" stroke-width="1.6"/>
<line x1="501.9" y1="1022.9" x2="507.4" y2="1022.9" stroke="#d95319" stroke-width="1.6"/>
<circle cx="492.9" cy="1022.9" r="3.4" fill="#d95319"/>
<path d="M491.5,1021.8 h2.8 M491.5,1024 h2.8" stroke="#fff" stroke-width="0.8" opacity="0.6"/>
<text x="514.3" y="1027.4" font-size="13.5" text-anchor="start" font-weight="normal" fill="#000" stroke="#000" stroke-width="0.3" >Gonzalez de la Fuente et al. 2013</text>
<line x1="478.4" y1="1039.5" x2="483.9" y2="1039.5" stroke="#0072bd" stroke-width="1.6"/>
<line x1="501.9" y1="1039.5" x2="507.4" y2="1039.5" stroke="#0072bd" stroke-width="1.6"/>
<path d="M492.9,1035.3 L496.1,1039.5 L492.9,1043.7 L489.7,1039.5Z" fill="#0072bd"/>
<text x="514.3" y="1044" font-size="13.5" text-anchor="start" font-weight="normal" fill="#000" stroke="#000" stroke-width="0.3" >Li &amp; Nattel et al. 1997</text>
</svg></body></html>
